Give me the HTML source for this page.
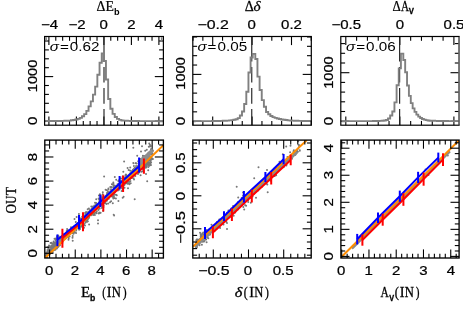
<!DOCTYPE html>
<html><head><meta charset="utf-8"><title>chart</title>
<style>html,body{margin:0;padding:0;background:#fff;}svg{display:block;will-change:transform;}</style>
</head><body>
<svg width="463" height="318" viewBox="0 0 463 318">
<rect width="463" height="318" fill="#fff"/>
<line x1="48.90" y1="36.50" x2="48.90" y2="45.10" stroke="#000" stroke-width="1.1" />
<line x1="48.90" y1="125.20" x2="48.90" y2="116.60" stroke="#000" stroke-width="1.1" />
<line x1="55.78" y1="36.50" x2="55.78" y2="40.80" stroke="#000" stroke-width="1.1" />
<line x1="55.78" y1="125.20" x2="55.78" y2="120.90" stroke="#000" stroke-width="1.1" />
<line x1="62.65" y1="36.50" x2="62.65" y2="40.80" stroke="#000" stroke-width="1.1" />
<line x1="62.65" y1="125.20" x2="62.65" y2="120.90" stroke="#000" stroke-width="1.1" />
<line x1="69.53" y1="36.50" x2="69.53" y2="40.80" stroke="#000" stroke-width="1.1" />
<line x1="69.53" y1="125.20" x2="69.53" y2="120.90" stroke="#000" stroke-width="1.1" />
<line x1="76.40" y1="36.50" x2="76.40" y2="45.10" stroke="#000" stroke-width="1.1" />
<line x1="76.40" y1="125.20" x2="76.40" y2="116.60" stroke="#000" stroke-width="1.1" />
<line x1="83.28" y1="36.50" x2="83.28" y2="40.80" stroke="#000" stroke-width="1.1" />
<line x1="83.28" y1="125.20" x2="83.28" y2="120.90" stroke="#000" stroke-width="1.1" />
<line x1="90.15" y1="36.50" x2="90.15" y2="40.80" stroke="#000" stroke-width="1.1" />
<line x1="90.15" y1="125.20" x2="90.15" y2="120.90" stroke="#000" stroke-width="1.1" />
<line x1="97.03" y1="36.50" x2="97.03" y2="40.80" stroke="#000" stroke-width="1.1" />
<line x1="97.03" y1="125.20" x2="97.03" y2="120.90" stroke="#000" stroke-width="1.1" />
<line x1="103.90" y1="36.50" x2="103.90" y2="45.10" stroke="#000" stroke-width="1.1" />
<line x1="103.90" y1="125.20" x2="103.90" y2="116.60" stroke="#000" stroke-width="1.1" />
<line x1="110.78" y1="36.50" x2="110.78" y2="40.80" stroke="#000" stroke-width="1.1" />
<line x1="110.78" y1="125.20" x2="110.78" y2="120.90" stroke="#000" stroke-width="1.1" />
<line x1="117.65" y1="36.50" x2="117.65" y2="40.80" stroke="#000" stroke-width="1.1" />
<line x1="117.65" y1="125.20" x2="117.65" y2="120.90" stroke="#000" stroke-width="1.1" />
<line x1="124.53" y1="36.50" x2="124.53" y2="40.80" stroke="#000" stroke-width="1.1" />
<line x1="124.53" y1="125.20" x2="124.53" y2="120.90" stroke="#000" stroke-width="1.1" />
<line x1="131.40" y1="36.50" x2="131.40" y2="45.10" stroke="#000" stroke-width="1.1" />
<line x1="131.40" y1="125.20" x2="131.40" y2="116.60" stroke="#000" stroke-width="1.1" />
<line x1="138.28" y1="36.50" x2="138.28" y2="40.80" stroke="#000" stroke-width="1.1" />
<line x1="138.28" y1="125.20" x2="138.28" y2="120.90" stroke="#000" stroke-width="1.1" />
<line x1="145.15" y1="36.50" x2="145.15" y2="40.80" stroke="#000" stroke-width="1.1" />
<line x1="145.15" y1="125.20" x2="145.15" y2="120.90" stroke="#000" stroke-width="1.1" />
<line x1="152.03" y1="36.50" x2="152.03" y2="40.80" stroke="#000" stroke-width="1.1" />
<line x1="152.03" y1="125.20" x2="152.03" y2="120.90" stroke="#000" stroke-width="1.1" />
<line x1="158.90" y1="36.50" x2="158.90" y2="45.10" stroke="#000" stroke-width="1.1" />
<line x1="158.90" y1="125.20" x2="158.90" y2="116.60" stroke="#000" stroke-width="1.1" />
<line x1="44.60" y1="121.10" x2="53.20" y2="121.10" stroke="#000" stroke-width="1.1" />
<line x1="163.40" y1="121.10" x2="154.80" y2="121.10" stroke="#000" stroke-width="1.1" />
<line x1="44.60" y1="112.20" x2="48.90" y2="112.20" stroke="#000" stroke-width="1.1" />
<line x1="163.40" y1="112.20" x2="159.10" y2="112.20" stroke="#000" stroke-width="1.1" />
<line x1="44.60" y1="103.30" x2="48.90" y2="103.30" stroke="#000" stroke-width="1.1" />
<line x1="163.40" y1="103.30" x2="159.10" y2="103.30" stroke="#000" stroke-width="1.1" />
<line x1="44.60" y1="94.40" x2="48.90" y2="94.40" stroke="#000" stroke-width="1.1" />
<line x1="163.40" y1="94.40" x2="159.10" y2="94.40" stroke="#000" stroke-width="1.1" />
<line x1="44.60" y1="85.50" x2="48.90" y2="85.50" stroke="#000" stroke-width="1.1" />
<line x1="163.40" y1="85.50" x2="159.10" y2="85.50" stroke="#000" stroke-width="1.1" />
<line x1="44.60" y1="76.60" x2="53.20" y2="76.60" stroke="#000" stroke-width="1.1" />
<line x1="163.40" y1="76.60" x2="154.80" y2="76.60" stroke="#000" stroke-width="1.1" />
<line x1="44.60" y1="67.70" x2="48.90" y2="67.70" stroke="#000" stroke-width="1.1" />
<line x1="163.40" y1="67.70" x2="159.10" y2="67.70" stroke="#000" stroke-width="1.1" />
<line x1="44.60" y1="58.80" x2="48.90" y2="58.80" stroke="#000" stroke-width="1.1" />
<line x1="163.40" y1="58.80" x2="159.10" y2="58.80" stroke="#000" stroke-width="1.1" />
<line x1="44.60" y1="49.90" x2="48.90" y2="49.90" stroke="#000" stroke-width="1.1" />
<line x1="163.40" y1="49.90" x2="159.10" y2="49.90" stroke="#000" stroke-width="1.1" />
<line x1="44.60" y1="41.00" x2="48.90" y2="41.00" stroke="#000" stroke-width="1.1" />
<line x1="163.40" y1="41.00" x2="159.10" y2="41.00" stroke="#000" stroke-width="1.1" />
<line x1="104.00" y1="36.60" x2="104.00" y2="61.50" stroke="#222" stroke-width="1.15" />
<line x1="104.00" y1="67.00" x2="104.00" y2="82.50" stroke="#222" stroke-width="1.15" />
<line x1="104.00" y1="88.10" x2="104.00" y2="103.80" stroke="#222" stroke-width="1.15" />
<line x1="104.00" y1="109.10" x2="104.00" y2="125.00" stroke="#222" stroke-width="1.15" />
<path d="M45.40,121.10 L45.40,121.09 L46.75,121.09 L46.75,121.08 L48.95,121.08 L48.95,121.06 L51.15,121.06 L51.15,121.05 L53.35,121.05 L53.35,121.03 L55.55,121.03 L55.55,121.02 L57.75,121.02 L57.75,121.01 L59.95,121.01 L59.95,120.96 L62.15,120.96 L62.15,120.87 L64.35,120.87 L64.35,120.78 L66.55,120.78 L66.55,120.69 L68.75,120.69 L68.75,120.61 L70.95,120.61 L70.95,120.27 L73.15,120.27 L73.15,119.93 L75.35,119.93 L75.35,119.55 L77.55,119.55 L77.55,118.88 L79.75,118.88 L79.75,117.86 L81.95,117.86 L81.95,116.30 L84.15,116.30 L84.15,114.11 L86.35,114.11 L86.35,110.90 L88.55,110.90 L88.55,106.41 L90.75,106.41 L90.75,101.41 L92.95,101.41 L92.95,94.62 L95.15,94.62 L95.15,86.60 L97.35,86.60 L97.35,74.80 L99.55,74.80 L99.55,62.77 L101.75,62.77 L101.75,53.40 L103.75,53.40 L103.75,61.02 L105.95,61.02 L105.95,79.46 L108.15,79.46 L108.15,99.07 L110.35,99.07 L110.35,108.68 L112.55,108.68 L112.55,113.91 L114.75,113.91 L114.75,116.93 L116.95,116.93 L116.95,118.84 L119.15,118.84 L119.15,119.91 L121.35,119.91 L121.35,120.43 L123.55,120.43 L123.55,120.62 L125.75,120.62 L125.75,120.80 L127.95,120.80 L127.95,120.92 L130.15,120.92 L130.15,120.95 L132.35,120.95 L132.35,120.99 L134.55,120.99 L134.55,121.03 L136.75,121.03 L136.75,121.06 L138.95,121.06 L138.95,121.10 L141.15,121.10 L141.15,121.11 L143.35,121.11 L143.35,121.12 L145.55,121.12 L145.55,121.13 L147.75,121.13 L147.75,121.14 L149.95,121.14 L149.95,121.14 L152.15,121.14 L152.15,121.15 L154.35,121.15 L154.35,121.16 L156.55,121.16 L156.55,121.17 L158.75,121.17 L158.75,121.18 L160.95,121.18 L160.95,121.19 L162.60,121.19 L162.60,121.10" fill="none" stroke="#808080" stroke-width="1.9" stroke-linejoin="miter"/>
<line x1="46.20" y1="37.30" x2="46.20" y2="40.70" stroke="#808080" stroke-width="1.4" />
<line x1="161.60" y1="37.30" x2="161.60" y2="41.50" stroke="#808080" stroke-width="1.4" />
<rect x="44.60" y="36.50" width="118.80" height="88.70" fill="none" stroke="#000" stroke-width="1.2"/>
<line x1="193.00" y1="36.50" x2="193.00" y2="40.80" stroke="#000" stroke-width="1.1" />
<line x1="193.00" y1="125.20" x2="193.00" y2="120.90" stroke="#000" stroke-width="1.1" />
<line x1="202.85" y1="36.50" x2="202.85" y2="40.80" stroke="#000" stroke-width="1.1" />
<line x1="202.85" y1="125.20" x2="202.85" y2="120.90" stroke="#000" stroke-width="1.1" />
<line x1="212.70" y1="36.50" x2="212.70" y2="45.10" stroke="#000" stroke-width="1.1" />
<line x1="212.70" y1="125.20" x2="212.70" y2="116.60" stroke="#000" stroke-width="1.1" />
<line x1="222.55" y1="36.50" x2="222.55" y2="40.80" stroke="#000" stroke-width="1.1" />
<line x1="222.55" y1="125.20" x2="222.55" y2="120.90" stroke="#000" stroke-width="1.1" />
<line x1="232.40" y1="36.50" x2="232.40" y2="40.80" stroke="#000" stroke-width="1.1" />
<line x1="232.40" y1="125.20" x2="232.40" y2="120.90" stroke="#000" stroke-width="1.1" />
<line x1="242.25" y1="36.50" x2="242.25" y2="40.80" stroke="#000" stroke-width="1.1" />
<line x1="242.25" y1="125.20" x2="242.25" y2="120.90" stroke="#000" stroke-width="1.1" />
<line x1="252.10" y1="36.50" x2="252.10" y2="45.10" stroke="#000" stroke-width="1.1" />
<line x1="252.10" y1="125.20" x2="252.10" y2="116.60" stroke="#000" stroke-width="1.1" />
<line x1="261.95" y1="36.50" x2="261.95" y2="40.80" stroke="#000" stroke-width="1.1" />
<line x1="261.95" y1="125.20" x2="261.95" y2="120.90" stroke="#000" stroke-width="1.1" />
<line x1="271.80" y1="36.50" x2="271.80" y2="40.80" stroke="#000" stroke-width="1.1" />
<line x1="271.80" y1="125.20" x2="271.80" y2="120.90" stroke="#000" stroke-width="1.1" />
<line x1="281.65" y1="36.50" x2="281.65" y2="40.80" stroke="#000" stroke-width="1.1" />
<line x1="281.65" y1="125.20" x2="281.65" y2="120.90" stroke="#000" stroke-width="1.1" />
<line x1="291.50" y1="36.50" x2="291.50" y2="45.10" stroke="#000" stroke-width="1.1" />
<line x1="291.50" y1="125.20" x2="291.50" y2="116.60" stroke="#000" stroke-width="1.1" />
<line x1="301.35" y1="36.50" x2="301.35" y2="40.80" stroke="#000" stroke-width="1.1" />
<line x1="301.35" y1="125.20" x2="301.35" y2="120.90" stroke="#000" stroke-width="1.1" />
<line x1="311.20" y1="36.50" x2="311.20" y2="40.80" stroke="#000" stroke-width="1.1" />
<line x1="311.20" y1="125.20" x2="311.20" y2="120.90" stroke="#000" stroke-width="1.1" />
<line x1="192.80" y1="121.20" x2="201.40" y2="121.20" stroke="#000" stroke-width="1.1" />
<line x1="311.30" y1="121.20" x2="302.70" y2="121.20" stroke="#000" stroke-width="1.1" />
<line x1="192.80" y1="111.84" x2="197.10" y2="111.84" stroke="#000" stroke-width="1.1" />
<line x1="311.30" y1="111.84" x2="307.00" y2="111.84" stroke="#000" stroke-width="1.1" />
<line x1="192.80" y1="102.48" x2="197.10" y2="102.48" stroke="#000" stroke-width="1.1" />
<line x1="311.30" y1="102.48" x2="307.00" y2="102.48" stroke="#000" stroke-width="1.1" />
<line x1="192.80" y1="93.12" x2="197.10" y2="93.12" stroke="#000" stroke-width="1.1" />
<line x1="311.30" y1="93.12" x2="307.00" y2="93.12" stroke="#000" stroke-width="1.1" />
<line x1="192.80" y1="83.76" x2="197.10" y2="83.76" stroke="#000" stroke-width="1.1" />
<line x1="311.30" y1="83.76" x2="307.00" y2="83.76" stroke="#000" stroke-width="1.1" />
<line x1="192.80" y1="74.40" x2="201.40" y2="74.40" stroke="#000" stroke-width="1.1" />
<line x1="311.30" y1="74.40" x2="302.70" y2="74.40" stroke="#000" stroke-width="1.1" />
<line x1="192.80" y1="65.04" x2="197.10" y2="65.04" stroke="#000" stroke-width="1.1" />
<line x1="311.30" y1="65.04" x2="307.00" y2="65.04" stroke="#000" stroke-width="1.1" />
<line x1="192.80" y1="55.68" x2="197.10" y2="55.68" stroke="#000" stroke-width="1.1" />
<line x1="311.30" y1="55.68" x2="307.00" y2="55.68" stroke="#000" stroke-width="1.1" />
<line x1="192.80" y1="46.32" x2="197.10" y2="46.32" stroke="#000" stroke-width="1.1" />
<line x1="311.30" y1="46.32" x2="307.00" y2="46.32" stroke="#000" stroke-width="1.1" />
<line x1="192.80" y1="36.96" x2="197.10" y2="36.96" stroke="#000" stroke-width="1.1" />
<line x1="311.30" y1="36.96" x2="307.00" y2="36.96" stroke="#000" stroke-width="1.1" />
<line x1="251.75" y1="36.60" x2="251.75" y2="61.50" stroke="#222" stroke-width="1.15" />
<line x1="251.75" y1="67.00" x2="251.75" y2="82.50" stroke="#222" stroke-width="1.15" />
<line x1="251.75" y1="88.10" x2="251.75" y2="103.80" stroke="#222" stroke-width="1.15" />
<line x1="251.75" y1="109.10" x2="251.75" y2="125.00" stroke="#222" stroke-width="1.15" />
<path d="M193.60,121.20 L193.60,121.18 L194.70,121.18 L194.70,121.17 L196.85,121.17 L196.85,121.16 L199.00,121.16 L199.00,121.15 L201.15,121.15 L201.15,121.14 L203.30,121.14 L203.30,121.13 L205.45,121.13 L205.45,121.12 L207.60,121.12 L207.60,121.11 L209.75,121.11 L209.75,121.09 L211.90,121.09 L211.90,121.05 L214.05,121.05 L214.05,121.01 L216.20,121.01 L216.20,120.98 L218.35,120.98 L218.35,120.94 L220.50,120.94 L220.50,120.91 L222.65,120.91 L222.65,120.81 L224.80,120.81 L224.80,120.71 L226.95,120.71 L226.95,120.60 L229.10,120.60 L229.10,120.38 L231.25,120.38 L231.25,120.15 L233.40,120.15 L233.40,119.80 L235.55,119.80 L235.55,119.22 L237.70,119.22 L237.70,118.16 L239.85,118.16 L239.85,115.43 L242.00,115.43 L242.00,111.52 L244.15,111.52 L244.15,104.01 L246.30,104.01 L246.30,91.75 L248.45,91.75 L248.45,72.56 L250.60,72.56 L250.60,57.47 L252.75,57.47 L252.75,53.90 L255.30,53.90 L255.30,58.93 L257.45,58.93 L257.45,76.59 L259.60,76.59 L259.60,90.02 L261.75,90.02 L261.75,100.08 L263.90,100.08 L263.90,106.77 L266.05,106.77 L266.05,112.00 L268.20,112.00 L268.20,114.32 L270.35,114.32 L270.35,115.99 L272.50,115.99 L272.50,117.10 L274.65,117.10 L274.65,117.90 L276.80,117.90 L276.80,118.53 L278.95,118.53 L278.95,119.05 L281.10,119.05 L281.10,119.52 L283.25,119.52 L283.25,119.79 L285.40,119.79 L285.40,120.06 L287.55,120.06 L287.55,120.33 L289.70,120.33 L289.70,120.53 L291.85,120.53 L291.85,120.62 L294.00,120.62 L294.00,120.70 L296.15,120.70 L296.15,120.79 L298.30,120.79 L298.30,120.87 L300.45,120.87 L300.45,120.92 L302.60,120.92 L302.60,120.95 L304.75,120.95 L304.75,120.98 L306.90,120.98 L306.90,121.01 L309.05,121.01 L309.05,121.03 L310.50,121.03 L310.50,121.20" fill="none" stroke="#808080" stroke-width="1.9" stroke-linejoin="miter"/>
<rect x="192.80" y="36.50" width="118.50" height="88.70" fill="none" stroke="#000" stroke-width="1.2"/>
<line x1="345.80" y1="36.50" x2="345.80" y2="45.10" stroke="#000" stroke-width="1.1" />
<line x1="345.80" y1="125.20" x2="345.80" y2="116.60" stroke="#000" stroke-width="1.1" />
<line x1="356.61" y1="36.50" x2="356.61" y2="40.80" stroke="#000" stroke-width="1.1" />
<line x1="356.61" y1="125.20" x2="356.61" y2="120.90" stroke="#000" stroke-width="1.1" />
<line x1="367.42" y1="36.50" x2="367.42" y2="40.80" stroke="#000" stroke-width="1.1" />
<line x1="367.42" y1="125.20" x2="367.42" y2="120.90" stroke="#000" stroke-width="1.1" />
<line x1="378.23" y1="36.50" x2="378.23" y2="40.80" stroke="#000" stroke-width="1.1" />
<line x1="378.23" y1="125.20" x2="378.23" y2="120.90" stroke="#000" stroke-width="1.1" />
<line x1="389.04" y1="36.50" x2="389.04" y2="40.80" stroke="#000" stroke-width="1.1" />
<line x1="389.04" y1="125.20" x2="389.04" y2="120.90" stroke="#000" stroke-width="1.1" />
<line x1="399.85" y1="36.50" x2="399.85" y2="45.10" stroke="#000" stroke-width="1.1" />
<line x1="399.85" y1="125.20" x2="399.85" y2="116.60" stroke="#000" stroke-width="1.1" />
<line x1="410.66" y1="36.50" x2="410.66" y2="40.80" stroke="#000" stroke-width="1.1" />
<line x1="410.66" y1="125.20" x2="410.66" y2="120.90" stroke="#000" stroke-width="1.1" />
<line x1="421.47" y1="36.50" x2="421.47" y2="40.80" stroke="#000" stroke-width="1.1" />
<line x1="421.47" y1="125.20" x2="421.47" y2="120.90" stroke="#000" stroke-width="1.1" />
<line x1="432.28" y1="36.50" x2="432.28" y2="40.80" stroke="#000" stroke-width="1.1" />
<line x1="432.28" y1="125.20" x2="432.28" y2="120.90" stroke="#000" stroke-width="1.1" />
<line x1="443.09" y1="36.50" x2="443.09" y2="40.80" stroke="#000" stroke-width="1.1" />
<line x1="443.09" y1="125.20" x2="443.09" y2="120.90" stroke="#000" stroke-width="1.1" />
<line x1="453.90" y1="36.50" x2="453.90" y2="45.10" stroke="#000" stroke-width="1.1" />
<line x1="453.90" y1="125.20" x2="453.90" y2="116.60" stroke="#000" stroke-width="1.1" />
<line x1="340.80" y1="121.20" x2="349.40" y2="121.20" stroke="#000" stroke-width="1.1" />
<line x1="459.10" y1="121.20" x2="450.50" y2="121.20" stroke="#000" stroke-width="1.1" />
<line x1="340.80" y1="111.50" x2="345.10" y2="111.50" stroke="#000" stroke-width="1.1" />
<line x1="459.10" y1="111.50" x2="454.80" y2="111.50" stroke="#000" stroke-width="1.1" />
<line x1="340.80" y1="101.80" x2="345.10" y2="101.80" stroke="#000" stroke-width="1.1" />
<line x1="459.10" y1="101.80" x2="454.80" y2="101.80" stroke="#000" stroke-width="1.1" />
<line x1="340.80" y1="92.10" x2="345.10" y2="92.10" stroke="#000" stroke-width="1.1" />
<line x1="459.10" y1="92.10" x2="454.80" y2="92.10" stroke="#000" stroke-width="1.1" />
<line x1="340.80" y1="82.40" x2="345.10" y2="82.40" stroke="#000" stroke-width="1.1" />
<line x1="459.10" y1="82.40" x2="454.80" y2="82.40" stroke="#000" stroke-width="1.1" />
<line x1="340.80" y1="72.70" x2="349.40" y2="72.70" stroke="#000" stroke-width="1.1" />
<line x1="459.10" y1="72.70" x2="450.50" y2="72.70" stroke="#000" stroke-width="1.1" />
<line x1="340.80" y1="63.00" x2="345.10" y2="63.00" stroke="#000" stroke-width="1.1" />
<line x1="459.10" y1="63.00" x2="454.80" y2="63.00" stroke="#000" stroke-width="1.1" />
<line x1="340.80" y1="53.30" x2="345.10" y2="53.30" stroke="#000" stroke-width="1.1" />
<line x1="459.10" y1="53.30" x2="454.80" y2="53.30" stroke="#000" stroke-width="1.1" />
<line x1="340.80" y1="43.60" x2="345.10" y2="43.60" stroke="#000" stroke-width="1.1" />
<line x1="459.10" y1="43.60" x2="454.80" y2="43.60" stroke="#000" stroke-width="1.1" />
<line x1="399.62" y1="36.60" x2="399.62" y2="61.50" stroke="#222" stroke-width="1.15" />
<line x1="399.62" y1="67.00" x2="399.62" y2="82.50" stroke="#222" stroke-width="1.15" />
<line x1="399.62" y1="88.10" x2="399.62" y2="103.80" stroke="#222" stroke-width="1.15" />
<line x1="399.62" y1="109.10" x2="399.62" y2="125.00" stroke="#222" stroke-width="1.15" />
<path d="M341.60,121.20 L341.60,121.19 L342.85,121.19 L342.85,121.18 L345.00,121.18 L345.00,121.17 L347.15,121.17 L347.15,121.17 L349.30,121.17 L349.30,121.16 L351.45,121.16 L351.45,121.15 L353.60,121.15 L353.60,121.15 L355.75,121.15 L355.75,121.14 L357.90,121.14 L357.90,121.13 L360.05,121.13 L360.05,121.13 L362.20,121.13 L362.20,121.12 L364.35,121.12 L364.35,121.11 L366.50,121.11 L366.50,121.11 L368.65,121.11 L368.65,121.10 L370.80,121.10 L370.80,121.08 L372.95,121.08 L372.95,121.05 L375.10,121.05 L375.10,121.02 L377.25,121.02 L377.25,120.98 L379.40,120.98 L379.40,120.88 L381.55,120.88 L381.55,120.77 L383.70,120.77 L383.70,120.52 L385.85,120.52 L385.85,120.01 L388.00,120.01 L388.00,118.48 L390.15,118.48 L390.15,115.53 L392.30,115.53 L392.30,111.44 L394.45,111.44 L394.45,102.42 L396.60,102.42 L396.60,85.21 L398.75,85.21 L398.75,68.33 L400.90,68.33 L400.90,53.60 L403.30,53.60 L403.30,60.01 L405.17,60.01 L405.17,72.20 L407.04,72.20 L407.04,85.48 L408.91,85.48 L408.91,95.91 L410.78,95.91 L410.78,103.16 L412.65,103.16 L412.65,108.37 L414.52,108.37 L414.52,111.85 L416.39,111.85 L416.39,114.62 L418.26,114.62 L418.26,116.60 L420.13,116.60 L420.13,117.99 L422.00,117.99 L422.00,118.97 L423.87,118.97 L423.87,119.60 L425.74,119.60 L425.74,120.12 L427.61,120.12 L427.61,120.45 L429.48,120.45 L429.48,120.71 L431.35,120.71 L431.35,120.77 L433.22,120.77 L433.22,120.82 L435.09,120.82 L435.09,120.88 L436.96,120.88 L436.96,120.94 L438.83,120.94 L438.83,120.99 L440.70,120.99 L440.70,121.02 L442.57,121.02 L442.57,121.04 L444.44,121.04 L444.44,121.05 L446.31,121.05 L446.31,121.07 L448.18,121.07 L448.18,121.09 L450.05,121.09 L450.05,121.11 L451.92,121.11 L451.92,121.12 L453.79,121.12 L453.79,121.14 L455.66,121.14 L455.66,121.15 L457.53,121.15 L457.53,121.17 L458.30,121.17 L458.30,121.20" fill="none" stroke="#808080" stroke-width="1.9" stroke-linejoin="miter"/>
<rect x="340.80" y="36.50" width="118.30" height="88.70" fill="none" stroke="#000" stroke-width="1.2"/>
<line x1="459.10" y1="37.10" x2="459.10" y2="124.60" stroke="#7a7a7a" stroke-width="1.5" />
<text transform="translate(49.80,50.80) scale(1.22,1)" font-family="Liberation Sans" font-size="12.5px" fill="#000"><tspan font-style="italic">σ</tspan><tspan dx="0.8">=</tspan><tspan dx="0.8">0.62</tspan></text>
<text transform="translate(197.40,50.80) scale(1.22,1)" font-family="Liberation Sans" font-size="12.5px" fill="#000"><tspan font-style="italic">σ</tspan><tspan dx="0.8">=</tspan><tspan dx="0.8">0.05</tspan></text>
<text transform="translate(346.00,50.80) scale(1.22,1)" font-family="Liberation Sans" font-size="12.5px" fill="#000"><tspan font-style="italic">σ</tspan><tspan dx="0.8">=</tspan><tspan dx="0.8">0.06</tspan></text>
<text transform="translate(49.50,28.80) scale(1.2,1)" text-anchor="middle" font-family="Liberation Sans" font-size="12.5px" fill="#000" stroke="#000" stroke-width="0.22">−4</text>
<text transform="translate(77.00,28.80) scale(1.2,1)" text-anchor="middle" font-family="Liberation Sans" font-size="12.5px" fill="#000" stroke="#000" stroke-width="0.22">−2</text>
<text transform="translate(103.80,28.80) scale(1.2,1)" text-anchor="middle" font-family="Liberation Sans" font-size="12.5px" fill="#000" stroke="#000" stroke-width="0.22">0</text>
<text transform="translate(131.40,28.80) scale(1.2,1)" text-anchor="middle" font-family="Liberation Sans" font-size="12.5px" fill="#000" stroke="#000" stroke-width="0.22">2</text>
<text transform="translate(158.90,28.80) scale(1.2,1)" text-anchor="middle" font-family="Liberation Sans" font-size="12.5px" fill="#000" stroke="#000" stroke-width="0.22">4</text>
<text transform="translate(213.10,28.80) scale(1.27,1)" text-anchor="middle" font-family="Liberation Sans" font-size="12.5px" fill="#000" stroke="#000" stroke-width="0.22">−0.2</text>
<text transform="translate(251.80,28.80) scale(1.2,1)" text-anchor="middle" font-family="Liberation Sans" font-size="12.5px" fill="#000" stroke="#000" stroke-width="0.22">0</text>
<text transform="translate(291.50,28.80) scale(1.2,1)" text-anchor="middle" font-family="Liberation Sans" font-size="12.5px" fill="#000" stroke="#000" stroke-width="0.22">0.2</text>
<text transform="translate(346.20,28.80) scale(1.2,1)" text-anchor="middle" font-family="Liberation Sans" font-size="12.5px" fill="#000" stroke="#000" stroke-width="0.22">−0.5</text>
<text transform="translate(399.90,28.80) scale(1.2,1)" text-anchor="middle" font-family="Liberation Sans" font-size="12.5px" fill="#000" stroke="#000" stroke-width="0.22">0</text>
<text transform="translate(443.60,28.80) scale(1.2,1)" text-anchor="start" font-family="Liberation Sans" font-size="12.5px" fill="#000" stroke="#000" stroke-width="0.22">0.5</text>
<text transform="translate(37.40,120.70) rotate(-90) scale(1.2,1)" text-anchor="middle" font-family="Liberation Sans" font-size="12.5px" fill="#000" stroke="#000" stroke-width="0.22">0</text>
<text transform="translate(37.40,75.90) rotate(-90) scale(1.17,1)" text-anchor="middle" font-family="Liberation Sans" font-size="12.5px" fill="#000" stroke="#000" stroke-width="0.22">1000</text>
<text transform="translate(185.20,121.00) rotate(-90) scale(1.2,1)" text-anchor="middle" font-family="Liberation Sans" font-size="12.5px" fill="#000" stroke="#000" stroke-width="0.22">0</text>
<text transform="translate(185.20,73.40) rotate(-90) scale(1.17,1)" text-anchor="middle" font-family="Liberation Sans" font-size="12.5px" fill="#000" stroke="#000" stroke-width="0.22">1000</text>
<text transform="translate(333.20,121.00) rotate(-90) scale(1.2,1)" text-anchor="middle" font-family="Liberation Sans" font-size="12.5px" fill="#000" stroke="#000" stroke-width="0.22">0</text>
<text transform="translate(333.20,72.50) rotate(-90) scale(1.17,1)" text-anchor="middle" font-family="Liberation Sans" font-size="12.5px" fill="#000" stroke="#000" stroke-width="0.22">1000</text>
<text transform="translate(96.50,10.70) scale(0.93,1)" text-anchor="start" font-family="Liberation Serif" font-size="14.8px" fill="#000" stroke="#000" stroke-width="0.25">Δ</text>
<text transform="translate(105.50,10.70) scale(0.93,1)" text-anchor="start" font-family="Liberation Serif" font-size="14.8px" fill="#000" stroke="#000" stroke-width="0.25">E</text>
<text transform="translate(114.00,14.60) scale(1.0,1)" text-anchor="start" font-family="Liberation Sans" font-size="9.2px" fill="#000" font-weight="bold">b</text>
<text transform="translate(244.70,10.50) scale(0.95,1)" text-anchor="start" font-family="Liberation Serif" font-size="14.8px" fill="#000" stroke="#000" stroke-width="0.25">Δ</text>
<text transform="translate(253.60,10.50) scale(1.05,1)" text-anchor="start" font-family="Liberation Serif" font-size="14.5px" fill="#000" font-style="italic" stroke="#000" stroke-width="0.25">δ</text>
<text transform="translate(392.60,10.50) scale(0.88,1)" text-anchor="start" font-family="Liberation Serif" font-size="14.6px" fill="#000" stroke="#000" stroke-width="0.25">Δ</text>
<text transform="translate(400.90,10.50) scale(0.76,1)" text-anchor="start" font-family="Liberation Serif" font-size="14.6px" fill="#000" stroke="#000" stroke-width="0.25">A</text>
<text transform="translate(408.80,14.10) scale(0.9,1)" text-anchor="start" font-family="Liberation Sans" font-size="8.6px" fill="#000" font-weight="bold" stroke="#000" stroke-width="0.3">V</text>
<clipPath id="c0"><rect x="44.8" y="140.1" width="118.60000000000001" height="117.9"/></clipPath>
<g clip-path="url(#c0)">
<path d="M80.7,221.7h0.01M103.3,199.9h0.01M52.2,251.1h0.01M53.5,248.4h0.01M91.4,214.0h0.01M113.1,193.9h0.01M107.8,198.1h0.01M137.9,168.4h0.01M61.4,239.0h0.01M65.3,236.5h0.01M114.4,189.3h0.01M52.4,248.8h0.01M118.8,184.3h0.01M94.5,213.6h0.01M131.0,175.3h0.01M102.2,207.0h0.01M124.1,183.9h0.01M90.7,212.7h0.01M62.3,243.0h0.01M127.8,179.8h0.01M139.7,164.6h0.01M108.0,191.6h0.01M135.9,163.2h0.01M52.5,249.3h0.01M115.2,191.4h0.01M87.3,213.8h0.01M48.4,253.1h0.01M52.3,249.9h0.01M59.8,238.5h0.01M54.6,249.4h0.01M104.8,202.9h0.01M75.8,221.9h0.01M84.4,220.6h0.01M64.9,236.9h0.01M71.0,229.8h0.01M46.4,253.8h0.01M85.5,222.4h0.01M101.2,201.5h0.01M118.4,201.0h0.01M139.6,161.8h0.01M88.0,219.1h0.01M52.7,252.5h0.01M68.3,233.5h0.01M46.0,255.4h0.01M56.9,244.7h0.01M111.7,196.3h0.01M73.0,228.7h0.01M136.8,171.5h0.01M95.9,209.5h0.01M82.7,221.2h0.01M134.7,199.2h0.01M102.5,204.9h0.01M104.1,176.4h0.01M138.4,165.7h0.01M73.9,231.0h0.01M103.0,207.0h0.01M81.3,225.1h0.01M137.2,155.7h0.01M133.6,173.5h0.01M84.0,227.7h0.01M49.0,252.0h0.01M148.3,167.1h0.01M146.3,165.6h0.01M69.6,232.1h0.01M67.0,231.4h0.01M135.9,162.9h0.01M115.9,194.7h0.01M143.3,167.4h0.01M126.3,183.1h0.01M81.6,226.3h0.01M150.0,146.4h0.01M123.6,196.7h0.01M59.6,245.5h0.01M61.6,237.9h0.01M150.9,152.3h0.01M60.0,240.6h0.01M149.9,144.7h0.01M92.4,210.0h0.01M134.4,171.8h0.01M71.7,233.0h0.01M73.8,232.9h0.01M83.9,224.3h0.01M108.4,188.5h0.01M99.7,208.4h0.01M102.0,197.2h0.01M46.4,255.0h0.01M64.4,237.2h0.01M80.9,218.4h0.01M105.4,203.0h0.01M72.6,232.1h0.01M128.6,169.9h0.01M143.6,159.8h0.01M111.5,187.1h0.01M94.4,209.1h0.01M97.1,204.6h0.01M146.8,149.8h0.01M105.9,199.8h0.01M59.0,241.7h0.01M53.8,250.3h0.01M129.9,179.3h0.01M62.5,238.7h0.01M140.5,163.8h0.01M69.5,230.5h0.01M151.9,159.2h0.01M63.3,236.6h0.01M66.9,235.0h0.01M123.3,171.8h0.01M47.9,252.5h0.01M112.8,203.2h0.01M130.4,181.1h0.01M57.2,248.0h0.01M74.9,228.9h0.01M91.2,213.6h0.01M62.0,238.3h0.01M107.1,198.7h0.01M119.6,186.5h0.01M53.7,245.3h0.01M55.0,243.8h0.01M53.1,246.5h0.01M105.2,200.3h0.01M74.7,226.0h0.01M57.7,243.7h0.01M51.4,249.3h0.01M127.3,182.2h0.01M99.5,204.3h0.01M72.8,230.7h0.01M124.4,183.1h0.01M146.0,173.9h0.01M133.6,163.3h0.01M88.1,215.6h0.01M119.6,181.2h0.01M121.6,190.9h0.01M89.3,215.9h0.01M53.6,248.2h0.01M73.3,233.7h0.01M139.1,172.4h0.01M76.2,225.8h0.01M62.9,241.6h0.01M74.2,231.9h0.01M72.2,229.8h0.01M79.1,226.7h0.01M96.8,207.2h0.01M67.5,236.7h0.01M55.6,246.0h0.01M50.5,249.7h0.01M108.7,198.8h0.01M126.3,177.5h0.01M87.7,209.3h0.01M151.4,153.0h0.01M50.7,247.9h0.01M141.4,164.3h0.01M60.9,236.9h0.01M100.0,206.5h0.01M108.5,189.2h0.01M119.1,186.4h0.01M60.2,242.1h0.01M57.2,241.6h0.01M113.0,189.9h0.01M98.4,209.8h0.01M99.8,198.6h0.01M116.5,188.0h0.01M54.0,246.0h0.01M124.0,180.8h0.01M98.9,195.4h0.01M97.3,207.3h0.01M114.8,177.0h0.01M61.8,240.0h0.01M106.8,190.2h0.01M52.5,247.5h0.01M118.3,181.1h0.01M101.3,201.2h0.01M141.6,166.3h0.01M150.7,162.7h0.01M133.7,173.1h0.01M94.1,211.8h0.01M68.5,239.7h0.01M61.2,241.8h0.01M133.8,171.7h0.01M140.9,167.0h0.01M98.0,223.6h0.01M46.4,253.2h0.01M61.1,241.4h0.01M79.8,228.1h0.01M135.8,170.8h0.01M145.1,165.4h0.01M85.8,216.0h0.01M152.9,150.7h0.01M75.4,232.5h0.01M56.9,243.6h0.01M72.7,236.0h0.01M100.7,197.1h0.01M140.6,175.2h0.01M113.5,196.4h0.01M123.0,177.8h0.01M124.4,181.4h0.01M76.6,216.9h0.01M145.2,150.7h0.01M77.9,225.5h0.01M150.5,154.2h0.01M105.6,196.2h0.01M63.9,239.5h0.01M99.2,212.6h0.01M143.0,161.1h0.01M66.6,236.6h0.01M82.6,220.9h0.01M106.9,200.7h0.01M126.2,174.7h0.01M86.3,219.0h0.01M52.6,249.7h0.01M99.9,203.9h0.01M138.3,167.7h0.01M88.8,217.2h0.01M148.1,159.8h0.01M49.5,251.4h0.01M141.8,164.8h0.01M87.9,215.5h0.01M134.3,175.6h0.01M57.7,243.7h0.01M101.9,208.0h0.01M115.3,187.4h0.01M94.9,214.9h0.01M70.9,232.7h0.01M115.1,192.3h0.01M114.1,193.3h0.01M58.0,237.3h0.01M87.5,215.3h0.01M110.3,191.2h0.01M148.6,164.2h0.01M140.6,166.4h0.01M148.8,162.4h0.01M78.9,214.1h0.01M90.9,212.8h0.01M117.4,188.0h0.01M82.2,221.7h0.01M119.0,188.4h0.01M100.0,198.4h0.01M149.8,159.1h0.01M69.7,231.0h0.01M77.6,223.5h0.01M69.9,232.5h0.01M117.2,190.6h0.01M68.8,235.6h0.01M61.2,239.9h0.01M142.1,166.5h0.01M124.4,185.0h0.01M65.8,235.4h0.01M125.9,174.6h0.01M86.0,214.7h0.01M64.1,237.0h0.01M148.2,170.3h0.01M149.2,143.5h0.01M134.0,179.4h0.01M51.3,247.0h0.01M66.7,235.5h0.01M142.0,146.2h0.01M128.0,188.3h0.01M49.7,254.3h0.01M126.0,178.1h0.01M82.3,224.9h0.01M74.1,227.6h0.01M79.9,228.1h0.01M144.1,163.0h0.01M146.9,161.5h0.01M148.4,164.9h0.01M87.4,212.7h0.01M145.3,167.7h0.01M131.9,177.9h0.01M111.0,187.6h0.01M80.2,223.1h0.01M67.1,234.1h0.01M72.5,237.7h0.01M80.9,223.0h0.01M140.5,165.9h0.01M56.3,246.1h0.01M121.9,184.0h0.01M112.4,196.8h0.01M126.0,178.5h0.01M136.0,168.2h0.01M106.7,197.7h0.01M72.5,228.3h0.01M62.4,237.7h0.01M88.4,213.8h0.01M100.3,205.9h0.01M152.0,137.9h0.01M96.8,211.4h0.01M50.3,247.4h0.01M58.8,245.8h0.01M145.5,160.2h0.01M138.7,167.3h0.01M147.2,181.3h0.01M109.8,195.8h0.01M61.1,242.9h0.01M73.3,228.3h0.01M47.2,252.9h0.01M118.6,185.6h0.01M131.1,178.0h0.01M52.8,246.6h0.01M114.4,198.1h0.01M63.5,236.9h0.01M78.9,225.3h0.01M79.4,221.7h0.01M138.5,172.1h0.01M84.9,218.1h0.01M46.6,253.2h0.01M91.3,206.6h0.01M95.3,212.6h0.01M47.6,251.0h0.01M55.5,242.5h0.01M85.7,219.2h0.01M101.8,205.0h0.01M57.6,245.9h0.01M67.1,229.0h0.01M146.9,158.3h0.01M145.1,162.0h0.01M142.8,165.4h0.01M130.1,173.4h0.01M89.3,215.3h0.01M69.3,231.6h0.01M101.4,204.9h0.01M123.6,184.4h0.01M50.4,250.8h0.01M135.7,167.5h0.01M110.1,192.2h0.01M90.9,210.7h0.01M91.6,208.7h0.01M48.5,253.2h0.01M98.4,206.3h0.01M95.0,202.8h0.01M96.6,213.3h0.01M55.8,247.3h0.01M100.6,201.3h0.01M124.5,179.8h0.01M100.7,195.2h0.01M147.7,159.0h0.01M137.7,167.7h0.01M66.7,231.0h0.01M98.6,207.4h0.01M130.4,174.2h0.01M53.0,248.4h0.01M141.9,161.7h0.01M133.3,147.7h0.01M68.3,233.9h0.01M100.1,206.3h0.01M63.3,239.1h0.01M118.7,190.3h0.01M58.3,246.7h0.01M114.1,194.7h0.01M108.1,193.0h0.01M57.2,243.0h0.01M131.4,171.2h0.01M152.0,149.3h0.01M93.3,215.0h0.01M125.6,183.6h0.01M114.4,187.8h0.01M108.7,195.9h0.01M49.6,251.7h0.01M111.9,184.3h0.01M60.1,241.3h0.01M115.9,198.4h0.01M57.4,244.3h0.01M70.0,230.9h0.01M112.8,190.7h0.01M60.4,241.5h0.01M56.3,246.5h0.01M139.2,164.1h0.01M47.2,254.6h0.01M106.2,195.8h0.01M146.3,156.1h0.01M72.6,233.1h0.01M89.4,215.2h0.01M52.2,251.5h0.01M146.7,161.5h0.01M67.3,231.3h0.01M133.0,172.5h0.01M79.1,229.7h0.01M129.8,179.2h0.01M46.7,254.3h0.01M125.4,175.2h0.01M70.2,232.4h0.01M81.9,222.1h0.01M120.4,184.2h0.01M105.3,196.3h0.01M130.4,175.0h0.01M149.3,165.7h0.01M140.2,165.9h0.01M125.6,183.5h0.01M125.8,182.9h0.01M71.6,229.3h0.01M113.5,185.7h0.01M96.2,199.3h0.01M120.6,178.2h0.01M107.0,200.0h0.01M68.7,238.5h0.01M61.5,239.0h0.01M57.4,243.6h0.01M49.1,254.0h0.01M120.1,182.9h0.01M53.0,245.3h0.01M84.9,221.2h0.01M53.1,244.6h0.01M143.8,165.8h0.01M58.0,245.8h0.01M136.7,163.5h0.01M113.6,185.6h0.01M56.7,245.0h0.01M80.1,220.9h0.01M48.2,252.3h0.01M85.4,222.8h0.01M149.1,162.5h0.01M49.3,249.8h0.01M92.7,208.0h0.01M103.6,205.7h0.01M138.3,171.3h0.01M46.1,253.9h0.01M127.6,183.7h0.01M98.6,205.6h0.01M65.7,233.8h0.01M73.9,233.0h0.01M76.4,225.4h0.01M57.8,241.5h0.01M54.7,245.7h0.01M113.2,184.9h0.01M88.9,215.7h0.01M141.1,162.4h0.01M68.1,236.6h0.01M86.6,214.6h0.01M71.0,227.2h0.01M126.6,177.7h0.01M83.3,223.2h0.01M116.8,195.2h0.01M64.1,238.4h0.01M59.5,239.4h0.01M140.7,167.5h0.01M121.2,187.7h0.01M62.5,239.4h0.01M101.9,205.8h0.01M81.1,226.7h0.01M56.9,244.2h0.01M56.9,248.4h0.01M124.5,180.4h0.01M67.0,236.5h0.01M87.6,219.0h0.01M88.7,213.5h0.01M113.7,186.8h0.01M61.2,237.6h0.01M143.2,168.5h0.01M107.4,194.7h0.01M123.3,183.9h0.01M128.8,181.4h0.01M114.6,185.4h0.01M79.5,226.0h0.01M129.7,179.1h0.01M113.4,187.6h0.01M112.5,194.5h0.01M118.3,189.6h0.01M129.3,183.0h0.01M98.4,210.1h0.01M63.2,239.5h0.01M146.6,166.0h0.01M103.9,203.5h0.01M100.8,205.6h0.01M89.9,210.2h0.01M68.5,230.5h0.01M59.1,245.0h0.01M84.0,218.1h0.01M47.4,255.4h0.01M91.0,211.1h0.01M70.0,234.0h0.01M146.6,162.3h0.01M87.9,221.2h0.01M59.8,243.1h0.01M96.2,203.1h0.01M70.2,230.0h0.01M133.6,178.2h0.01M96.1,206.1h0.01M135.2,170.3h0.01M137.0,166.7h0.01M91.6,213.9h0.01M46.3,254.4h0.01M78.3,226.7h0.01M91.8,210.1h0.01M145.4,157.3h0.01M52.1,252.0h0.01M61.0,238.6h0.01M113.7,214.8h0.01M116.2,189.7h0.01M56.9,245.1h0.01M83.1,225.4h0.01M142.7,169.5h0.01M111.1,201.2h0.01M117.5,189.7h0.01M67.1,230.5h0.01M102.8,194.3h0.01M105.4,202.1h0.01M71.1,230.5h0.01M96.0,208.1h0.01M98.6,198.5h0.01M46.7,253.4h0.01M96.1,204.5h0.01M86.1,212.0h0.01M148.8,146.7h0.01M49.1,250.1h0.01M119.0,180.3h0.01M100.6,212.7h0.01M142.0,161.4h0.01M82.2,216.8h0.01M85.2,212.8h0.01M68.5,233.1h0.01M91.2,213.8h0.01M134.6,168.1h0.01M99.9,194.3h0.01M116.0,188.7h0.01M81.4,220.5h0.01M113.9,196.4h0.01M50.3,252.7h0.01M51.3,248.4h0.01M46.7,256.4h0.01M116.4,186.0h0.01M143.4,158.0h0.01M120.5,180.8h0.01M118.9,184.1h0.01M127.6,167.9h0.01M65.4,238.6h0.01M116.2,179.7h0.01M134.0,168.7h0.01M78.3,223.7h0.01M80.1,218.6h0.01M51.8,246.0h0.01M50.2,251.9h0.01M144.3,156.1h0.01M47.5,250.1h0.01M150.9,149.2h0.01M90.1,210.2h0.01M62.2,236.8h0.01M46.5,257.7h0.01M55.4,249.8h0.01M59.8,241.3h0.01M124.5,177.8h0.01M51.4,249.1h0.01M124.1,161.5h0.01M113.3,182.4h0.01M73.2,230.9h0.01M122.7,197.8h0.01M133.5,174.3h0.01M79.3,226.6h0.01M98.0,220.2h0.01M85.3,213.6h0.01M61.5,241.7h0.01M84.9,216.2h0.01M87.3,213.7h0.01M147.1,155.8h0.01M52.5,248.2h0.01M121.2,181.2h0.01M150.6,163.2h0.01M110.3,186.9h0.01M86.3,220.0h0.01M110.4,195.6h0.01M46.2,253.5h0.01M91.2,215.3h0.01M50.5,247.1h0.01M132.9,169.8h0.01M137.1,167.6h0.01M119.3,185.0h0.01M105.2,200.6h0.01M67.4,236.4h0.01M110.9,192.7h0.01M95.8,208.0h0.01M130.7,183.3h0.01M55.4,246.3h0.01M108.0,193.8h0.01M140.7,159.1h0.01M66.2,236.4h0.01M65.3,234.8h0.01M89.1,217.7h0.01M61.9,238.9h0.01M57.4,244.2h0.01M130.2,167.5h0.01M101.6,198.2h0.01M49.6,253.0h0.01M106.7,194.5h0.01M129.4,184.2h0.01M133.6,169.8h0.01M73.2,230.6h0.01M55.0,249.3h0.01M105.6,189.8h0.01M143.4,171.0h0.01M110.0,202.2h0.01M73.5,233.8h0.01M114.5,188.5h0.01M94.0,206.8h0.01M149.3,158.1h0.01M73.4,230.0h0.01M142.6,165.0h0.01M130.1,174.6h0.01M115.2,192.1h0.01M126.8,179.9h0.01M118.4,180.7h0.01M57.3,242.4h0.01M73.5,227.5h0.01M71.5,231.2h0.01M118.5,185.5h0.01M49.9,250.1h0.01M69.6,236.4h0.01M61.0,237.4h0.01M56.4,246.8h0.01M94.4,205.4h0.01M134.1,170.3h0.01M69.7,230.3h0.01M122.4,188.7h0.01M74.5,232.5h0.01M62.7,240.4h0.01M64.0,236.3h0.01M80.0,229.1h0.01M52.1,252.7h0.01M117.5,184.2h0.01M73.6,229.3h0.01M85.0,225.4h0.01M56.4,245.1h0.01M141.9,163.4h0.01M150.7,146.1h0.01M132.4,174.0h0.01M135.1,171.5h0.01M65.9,237.7h0.01M107.1,194.2h0.01M65.3,236.5h0.01M54.5,244.0h0.01M111.1,193.3h0.01M111.5,196.1h0.01M132.8,173.9h0.01M124.4,182.9h0.01M123.2,185.9h0.01M136.1,166.1h0.01M98.8,213.4h0.01M139.3,164.2h0.01M65.9,235.3h0.01M85.7,219.0h0.01M46.5,252.5h0.01M58.9,243.7h0.01M133.4,169.5h0.01M86.8,221.1h0.01M52.5,251.0h0.01M100.9,202.1h0.01M103.5,207.0h0.01M65.5,235.8h0.01M72.8,231.0h0.01M120.8,185.0h0.01M47.9,251.3h0.01M121.2,178.5h0.01M139.0,170.0h0.01M98.8,205.8h0.01M75.9,225.6h0.01M109.3,196.7h0.01M61.8,240.1h0.01M134.4,168.9h0.01M87.6,218.0h0.01M88.3,211.8h0.01M129.1,177.1h0.01M92.6,214.2h0.01M132.1,177.8h0.01M51.7,246.2h0.01M148.5,158.6h0.01M113.7,195.7h0.01M102.8,192.2h0.01M48.2,253.7h0.01M149.8,164.6h0.01M132.6,170.9h0.01M140.7,160.1h0.01M118.6,184.1h0.01M104.0,198.3h0.01M101.7,200.7h0.01M147.7,156.7h0.01M58.9,245.8h0.01M148.3,158.1h0.01M103.1,211.0h0.01M59.3,241.9h0.01M76.8,228.7h0.01M55.4,247.6h0.01M107.0,193.1h0.01M67.5,231.7h0.01M111.6,194.6h0.01M79.2,224.3h0.01M87.0,220.2h0.01M47.3,254.6h0.01M105.6,196.8h0.01M76.5,224.9h0.01M63.0,234.2h0.01M139.2,172.0h0.01M93.1,212.0h0.01M57.7,247.3h0.01M62.5,238.5h0.01M83.7,215.0h0.01M133.9,166.0h0.01M125.0,181.0h0.01M130.0,170.6h0.01M143.9,163.7h0.01M127.9,177.6h0.01M99.3,201.5h0.01M129.9,174.0h0.01M111.0,189.6h0.01M123.4,183.7h0.01M87.8,213.5h0.01M130.2,178.6h0.01M99.5,206.0h0.01M61.5,242.1h0.01M108.2,203.5h0.01M136.2,168.0h0.01M148.6,133.9h0.01M47.1,257.8h0.01M106.4,204.0h0.01M103.6,197.7h0.01M101.4,201.5h0.01M84.3,216.2h0.01M83.6,218.0h0.01M56.6,242.7h0.01M88.9,208.6h0.01M149.2,152.9h0.01M93.1,213.8h0.01M102.7,201.6h0.01M64.3,237.3h0.01M100.8,201.3h0.01M141.7,171.8h0.01M141.0,151.4h0.01M62.7,236.5h0.01M66.1,235.8h0.01M113.4,183.6h0.01M114.1,215.4h0.01M90.0,211.8h0.01M46.4,257.0h0.01M136.1,168.6h0.01M99.3,202.8h0.01M74.5,219.0h0.01M107.5,194.5h0.01M59.0,242.8h0.01M56.7,243.9h0.01M101.9,197.3h0.01M52.6,243.4h0.01M128.5,176.5h0.01M64.1,235.8h0.01M56.6,243.3h0.01M94.1,208.1h0.01M51.9,245.2h0.01M93.0,206.4h0.01M72.7,240.8h0.01M79.7,220.9h0.01M133.3,163.0h0.01M99.0,199.6h0.01M72.0,230.2h0.01M79.1,221.8h0.01M97.8,206.3h0.01M84.3,220.8h0.01M150.0,154.7h0.01M103.1,200.6h0.01M89.1,224.5h0.01M83.6,223.6h0.01M66.5,235.8h0.01M117.1,189.3h0.01M62.7,240.8h0.01M135.3,175.9h0.01M93.4,211.1h0.01M83.8,217.8h0.01M86.3,219.1h0.01M100.0,212.9h0.01M94.4,207.8h0.01M142.3,160.6h0.01M85.4,216.3h0.01M139.3,162.1h0.01M100.9,202.5h0.01M87.2,221.7h0.01M106.7,196.6h0.01M64.9,237.8h0.01M80.4,225.6h0.01M84.7,221.1h0.01M77.8,223.3h0.01M59.5,243.7h0.01M76.2,230.6h0.01M140.5,161.4h0.01M60.1,244.9h0.01M117.0,189.4h0.01M90.1,212.7h0.01M136.6,166.2h0.01M113.3,198.6h0.01M124.5,187.8h0.01M50.3,252.4h0.01M78.4,226.1h0.01M50.2,250.3h0.01M135.8,168.1h0.01M122.7,176.6h0.01M83.3,224.1h0.01M135.3,170.7h0.01M137.4,170.5h0.01M51.1,252.7h0.01M68.5,236.7h0.01M126.2,175.9h0.01M126.0,175.4h0.01M76.1,233.1h0.01M145.5,159.6h0.01M125.0,177.2h0.01M51.8,248.0h0.01M91.8,213.5h0.01M127.5,175.9h0.01M55.4,239.2h0.01M50.1,247.0h0.01M58.6,237.9h0.01M53.5,246.9h0.01M47.7,251.3h0.01M51.9,248.9h0.01M50.7,250.7h0.01M55.5,240.6h0.01M49.9,250.4h0.01M53.2,245.1h0.01M58.2,241.3h0.01M50.6,243.0h0.01M48.7,248.2h0.01M51.0,243.3h0.01M53.6,241.4h0.01M49.0,246.8h0.01M54.2,244.0h0.01M56.2,238.2h0.01M48.4,251.4h0.01M51.3,249.4h0.01M47.7,252.1h0.01M49.4,246.1h0.01M52.4,249.4h0.01M50.9,247.1h0.01M51.4,249.8h0.01M47.9,254.8h0.01M58.9,236.5h0.01M48.0,247.2h0.01M58.8,238.6h0.01M48.3,249.3h0.01M52.2,248.7h0.01M53.5,249.4h0.01M58.0,238.4h0.01M54.5,238.7h0.01M54.8,245.6h0.01M50.0,251.4h0.01M47.3,247.3h0.01M57.1,243.0h0.01M49.2,246.9h0.01M57.1,236.3h0.01M49.0,245.5h0.01M57.0,238.4h0.01M50.9,250.0h0.01M56.9,242.9h0.01M51.4,245.7h0.01M51.4,242.8h0.01M49.9,252.5h0.01M53.8,242.6h0.01M56.8,238.9h0.01M57.9,235.4h0.01M145.4,160.0h0.01M142.5,164.7h0.01M146.7,165.1h0.01M140.5,169.1h0.01M144.6,164.0h0.01M138.6,168.1h0.01M144.6,164.6h0.01M138.0,173.9h0.01M150.6,160.5h0.01M144.4,158.3h0.01M142.2,162.8h0.01M144.3,159.6h0.01M143.1,159.6h0.01M150.4,159.0h0.01M151.6,157.5h0.01M144.6,165.0h0.01M146.5,159.7h0.01M139.3,169.5h0.01M142.9,155.8h0.01M151.6,158.1h0.01M151.0,164.9h0.01M147.3,158.8h0.01M150.2,162.0h0.01M147.1,162.1h0.01M142.5,157.4h0.01M145.2,158.6h0.01M147.7,158.8h0.01M151.3,159.2h0.01M138.4,170.4h0.01M144.7,167.2h0.01M139.3,166.1h0.01M146.7,158.0h0.01M144.2,158.8h0.01M143.9,162.5h0.01M139.7,170.3h0.01M146.2,167.4h0.01M139.7,169.0h0.01M139.4,165.7h0.01M146.0,161.4h0.01M146.3,164.9h0.01M141.4,164.3h0.01M145.7,160.9h0.01M146.8,163.5h0.01M139.1,169.6h0.01M144.6,165.4h0.01M148.7,155.6h0.01M149.4,165.7h0.01M148.8,165.3h0.01M139.5,169.1h0.01M140.6,163.6h0.01M152.4,150.0h0.01M140.1,164.8h0.01M149.6,160.2h0.01M143.6,164.5h0.01M138.2,166.9h0.01M142.5,163.4h0.01M148.6,152.7h0.01M147.3,163.2h0.01M151.1,149.7h0.01M151.1,153.7h0.01M140.5,166.5h0.01M149.5,155.0h0.01M148.2,160.0h0.01M143.6,162.1h0.01M149.1,163.4h0.01M138.7,166.7h0.01M147.1,163.7h0.01M150.0,159.9h0.01M139.7,171.8h0.01M141.8,163.1h0.01M140.9,160.3h0.01M146.7,162.7h0.01M139.7,168.9h0.01M150.0,157.7h0.01M140.8,163.8h0.01M148.3,158.2h0.01M143.7,167.7h0.01M146.1,166.6h0.01M148.3,162.0h0.01M138.2,161.3h0.01M143.1,166.4h0.01M151.1,159.7h0.01M150.0,159.6h0.01M150.3,157.7h0.01M148.2,156.3h0.01M140.4,169.1h0.01M150.7,151.6h0.01M147.2,164.4h0.01M139.1,166.8h0.01M151.4,158.2h0.01M146.8,162.5h0.01M143.4,164.4h0.01M145.0,159.4h0.01M143.3,162.4h0.01M138.1,166.3h0.01M138.3,167.3h0.01M144.9,163.4h0.01M140.2,166.8h0.01M148.1,159.0h0.01M145.5,164.4h0.01M141.9,161.6h0.01M152.4,153.6h0.01M152.9,158.9h0.01M149.6,158.9h0.01M151.1,157.2h0.01M147.5,155.3h0.01M143.4,162.6h0.01M151.1,162.3h0.01M152.1,154.4h0.01M149.4,155.5h0.01" stroke="#787878" stroke-width="2.0" stroke-linecap="round" fill="none"/>
<line x1="58.00" y1="243.20" x2="150.00" y2="155.50" stroke="#8a8a8a" stroke-width="3.0" />
<line x1="139.00" y1="163.20" x2="152.50" y2="150.30" stroke="#8e8e8e" stroke-width="3.8" />
<line x1="44.80" y1="258.30" x2="163.40" y2="145.27" stroke="#ff8c00" stroke-width="2.0" />
<path d="M62.40,238.00 L83.00,221.10 L103.30,202.70 L123.10,184.60 L143.90,167.10" fill="none" stroke="#ff0000" stroke-width="2.0" stroke-linejoin="round"/>
<path d="M57.40,239.80 L79.00,222.20 L100.30,201.70 L119.60,183.40 L139.10,166.30" fill="none" stroke="#0000ff" stroke-width="2.0" stroke-linejoin="round"/>
<line x1="62.40" y1="228.80" x2="62.40" y2="247.70" stroke="#ff0000" stroke-width="2.0" />
<line x1="83.00" y1="212.30" x2="83.00" y2="231.20" stroke="#ff0000" stroke-width="2.0" />
<line x1="103.30" y1="194.40" x2="103.30" y2="211.50" stroke="#ff0000" stroke-width="2.0" />
<line x1="123.10" y1="175.40" x2="123.10" y2="192.10" stroke="#ff0000" stroke-width="2.0" />
<line x1="143.90" y1="158.60" x2="143.90" y2="173.80" stroke="#ff0000" stroke-width="2.0" />
<line x1="57.40" y1="234.60" x2="57.40" y2="246.20" stroke="#0000ff" stroke-width="2.0" />
<line x1="79.00" y1="215.00" x2="79.00" y2="229.20" stroke="#0000ff" stroke-width="2.0" />
<line x1="100.30" y1="194.70" x2="100.30" y2="207.00" stroke="#0000ff" stroke-width="2.0" />
<line x1="119.60" y1="176.00" x2="119.60" y2="189.40" stroke="#0000ff" stroke-width="2.0" />
<line x1="139.10" y1="157.60" x2="139.10" y2="172.50" stroke="#0000ff" stroke-width="2.0" />
</g>
<line x1="49.60" y1="140.10" x2="49.60" y2="148.70" stroke="#000" stroke-width="1.1" />
<line x1="49.60" y1="258.00" x2="49.60" y2="249.40" stroke="#000" stroke-width="1.1" />
<line x1="56.01" y1="140.10" x2="56.01" y2="144.40" stroke="#000" stroke-width="1.1" />
<line x1="56.01" y1="258.00" x2="56.01" y2="253.70" stroke="#000" stroke-width="1.1" />
<line x1="62.42" y1="140.10" x2="62.42" y2="144.40" stroke="#000" stroke-width="1.1" />
<line x1="62.42" y1="258.00" x2="62.42" y2="253.70" stroke="#000" stroke-width="1.1" />
<line x1="68.83" y1="140.10" x2="68.83" y2="144.40" stroke="#000" stroke-width="1.1" />
<line x1="68.83" y1="258.00" x2="68.83" y2="253.70" stroke="#000" stroke-width="1.1" />
<line x1="75.24" y1="140.10" x2="75.24" y2="148.70" stroke="#000" stroke-width="1.1" />
<line x1="75.24" y1="258.00" x2="75.24" y2="249.40" stroke="#000" stroke-width="1.1" />
<line x1="81.65" y1="140.10" x2="81.65" y2="144.40" stroke="#000" stroke-width="1.1" />
<line x1="81.65" y1="258.00" x2="81.65" y2="253.70" stroke="#000" stroke-width="1.1" />
<line x1="88.06" y1="140.10" x2="88.06" y2="144.40" stroke="#000" stroke-width="1.1" />
<line x1="88.06" y1="258.00" x2="88.06" y2="253.70" stroke="#000" stroke-width="1.1" />
<line x1="94.47" y1="140.10" x2="94.47" y2="144.40" stroke="#000" stroke-width="1.1" />
<line x1="94.47" y1="258.00" x2="94.47" y2="253.70" stroke="#000" stroke-width="1.1" />
<line x1="100.88" y1="140.10" x2="100.88" y2="148.70" stroke="#000" stroke-width="1.1" />
<line x1="100.88" y1="258.00" x2="100.88" y2="249.40" stroke="#000" stroke-width="1.1" />
<line x1="107.29" y1="140.10" x2="107.29" y2="144.40" stroke="#000" stroke-width="1.1" />
<line x1="107.29" y1="258.00" x2="107.29" y2="253.70" stroke="#000" stroke-width="1.1" />
<line x1="113.70" y1="140.10" x2="113.70" y2="144.40" stroke="#000" stroke-width="1.1" />
<line x1="113.70" y1="258.00" x2="113.70" y2="253.70" stroke="#000" stroke-width="1.1" />
<line x1="120.11" y1="140.10" x2="120.11" y2="144.40" stroke="#000" stroke-width="1.1" />
<line x1="120.11" y1="258.00" x2="120.11" y2="253.70" stroke="#000" stroke-width="1.1" />
<line x1="126.52" y1="140.10" x2="126.52" y2="148.70" stroke="#000" stroke-width="1.1" />
<line x1="126.52" y1="258.00" x2="126.52" y2="249.40" stroke="#000" stroke-width="1.1" />
<line x1="132.93" y1="140.10" x2="132.93" y2="144.40" stroke="#000" stroke-width="1.1" />
<line x1="132.93" y1="258.00" x2="132.93" y2="253.70" stroke="#000" stroke-width="1.1" />
<line x1="139.34" y1="140.10" x2="139.34" y2="144.40" stroke="#000" stroke-width="1.1" />
<line x1="139.34" y1="258.00" x2="139.34" y2="253.70" stroke="#000" stroke-width="1.1" />
<line x1="145.75" y1="140.10" x2="145.75" y2="144.40" stroke="#000" stroke-width="1.1" />
<line x1="145.75" y1="258.00" x2="145.75" y2="253.70" stroke="#000" stroke-width="1.1" />
<line x1="152.16" y1="140.10" x2="152.16" y2="148.70" stroke="#000" stroke-width="1.1" />
<line x1="152.16" y1="258.00" x2="152.16" y2="249.40" stroke="#000" stroke-width="1.1" />
<line x1="158.57" y1="140.10" x2="158.57" y2="144.40" stroke="#000" stroke-width="1.1" />
<line x1="158.57" y1="258.00" x2="158.57" y2="253.70" stroke="#000" stroke-width="1.1" />
<line x1="44.80" y1="253.30" x2="53.40" y2="253.30" stroke="#000" stroke-width="1.1" />
<line x1="163.40" y1="253.30" x2="154.80" y2="253.30" stroke="#000" stroke-width="1.1" />
<line x1="44.80" y1="247.28" x2="49.10" y2="247.28" stroke="#000" stroke-width="1.1" />
<line x1="163.40" y1="247.28" x2="159.10" y2="247.28" stroke="#000" stroke-width="1.1" />
<line x1="44.80" y1="241.26" x2="49.10" y2="241.26" stroke="#000" stroke-width="1.1" />
<line x1="163.40" y1="241.26" x2="159.10" y2="241.26" stroke="#000" stroke-width="1.1" />
<line x1="44.80" y1="235.24" x2="49.10" y2="235.24" stroke="#000" stroke-width="1.1" />
<line x1="163.40" y1="235.24" x2="159.10" y2="235.24" stroke="#000" stroke-width="1.1" />
<line x1="44.80" y1="229.22" x2="53.40" y2="229.22" stroke="#000" stroke-width="1.1" />
<line x1="163.40" y1="229.22" x2="154.80" y2="229.22" stroke="#000" stroke-width="1.1" />
<line x1="44.80" y1="223.20" x2="49.10" y2="223.20" stroke="#000" stroke-width="1.1" />
<line x1="163.40" y1="223.20" x2="159.10" y2="223.20" stroke="#000" stroke-width="1.1" />
<line x1="44.80" y1="217.18" x2="49.10" y2="217.18" stroke="#000" stroke-width="1.1" />
<line x1="163.40" y1="217.18" x2="159.10" y2="217.18" stroke="#000" stroke-width="1.1" />
<line x1="44.80" y1="211.16" x2="49.10" y2="211.16" stroke="#000" stroke-width="1.1" />
<line x1="163.40" y1="211.16" x2="159.10" y2="211.16" stroke="#000" stroke-width="1.1" />
<line x1="44.80" y1="205.14" x2="53.40" y2="205.14" stroke="#000" stroke-width="1.1" />
<line x1="163.40" y1="205.14" x2="154.80" y2="205.14" stroke="#000" stroke-width="1.1" />
<line x1="44.80" y1="199.12" x2="49.10" y2="199.12" stroke="#000" stroke-width="1.1" />
<line x1="163.40" y1="199.12" x2="159.10" y2="199.12" stroke="#000" stroke-width="1.1" />
<line x1="44.80" y1="193.10" x2="49.10" y2="193.10" stroke="#000" stroke-width="1.1" />
<line x1="163.40" y1="193.10" x2="159.10" y2="193.10" stroke="#000" stroke-width="1.1" />
<line x1="44.80" y1="187.08" x2="49.10" y2="187.08" stroke="#000" stroke-width="1.1" />
<line x1="163.40" y1="187.08" x2="159.10" y2="187.08" stroke="#000" stroke-width="1.1" />
<line x1="44.80" y1="181.06" x2="53.40" y2="181.06" stroke="#000" stroke-width="1.1" />
<line x1="163.40" y1="181.06" x2="154.80" y2="181.06" stroke="#000" stroke-width="1.1" />
<line x1="44.80" y1="175.04" x2="49.10" y2="175.04" stroke="#000" stroke-width="1.1" />
<line x1="163.40" y1="175.04" x2="159.10" y2="175.04" stroke="#000" stroke-width="1.1" />
<line x1="44.80" y1="169.02" x2="49.10" y2="169.02" stroke="#000" stroke-width="1.1" />
<line x1="163.40" y1="169.02" x2="159.10" y2="169.02" stroke="#000" stroke-width="1.1" />
<line x1="44.80" y1="163.00" x2="49.10" y2="163.00" stroke="#000" stroke-width="1.1" />
<line x1="163.40" y1="163.00" x2="159.10" y2="163.00" stroke="#000" stroke-width="1.1" />
<line x1="44.80" y1="156.98" x2="53.40" y2="156.98" stroke="#000" stroke-width="1.1" />
<line x1="163.40" y1="156.98" x2="154.80" y2="156.98" stroke="#000" stroke-width="1.1" />
<line x1="44.80" y1="150.96" x2="49.10" y2="150.96" stroke="#000" stroke-width="1.1" />
<line x1="163.40" y1="150.96" x2="159.10" y2="150.96" stroke="#000" stroke-width="1.1" />
<line x1="44.80" y1="144.94" x2="49.10" y2="144.94" stroke="#000" stroke-width="1.1" />
<line x1="163.40" y1="144.94" x2="159.10" y2="144.94" stroke="#000" stroke-width="1.1" />
<rect x="44.80" y="140.10" width="118.60" height="117.90" fill="none" stroke="#000" stroke-width="1.35"/>
<clipPath id="c1"><rect x="192.8" y="140.1" width="118.39999999999998" height="117.9"/></clipPath>
<g clip-path="url(#c1)">
<path d="M272.9,172.1h0.01M253.3,190.2h0.01M202.3,236.2h0.01M246.1,205.7h0.01M221.3,221.0h0.01M196.8,245.9h0.01M243.1,199.5h0.01M213.6,226.3h0.01M227.4,215.7h0.01M293.5,151.2h0.01M291.8,157.4h0.01M256.4,189.9h0.01M233.1,206.1h0.01M203.0,241.2h0.01M289.5,158.1h0.01M213.1,230.1h0.01M269.3,175.7h0.01M258.7,188.0h0.01M263.4,181.9h0.01M258.5,167.2h0.01M280.2,166.1h0.01M215.6,228.4h0.01M287.0,162.0h0.01M230.0,212.9h0.01M263.5,181.4h0.01M202.0,237.8h0.01M200.7,239.6h0.01M258.2,190.0h0.01M244.2,209.5h0.01M298.7,145.0h0.01M259.9,185.3h0.01M212.2,231.3h0.01M275.8,174.2h0.01M252.0,190.7h0.01M253.7,189.7h0.01M273.1,172.1h0.01M270.0,176.7h0.01M276.4,168.2h0.01M243.1,195.4h0.01M209.7,230.0h0.01M245.5,199.7h0.01M298.9,146.9h0.01M274.7,176.1h0.01M202.3,239.9h0.01M253.7,193.9h0.01M211.5,230.1h0.01M272.7,174.2h0.01M276.9,170.4h0.01M298.2,148.5h0.01M279.3,165.9h0.01M229.7,217.3h0.01M202.8,241.8h0.01M237.8,209.6h0.01M238.6,206.9h0.01M294.3,154.0h0.01M223.3,222.0h0.01M220.1,223.2h0.01M227.0,212.8h0.01M218.5,227.3h0.01M286.4,165.4h0.01M274.2,172.0h0.01M246.5,200.6h0.01M212.8,227.5h0.01M256.2,187.6h0.01M217.8,222.2h0.01M285.8,165.1h0.01M285.9,161.4h0.01M207.6,235.2h0.01M197.0,247.1h0.01M206.1,239.5h0.01M267.0,169.9h0.01M270.5,180.8h0.01M297.9,151.7h0.01M267.7,192.3h0.01M248.5,195.4h0.01M198.1,244.1h0.01M228.9,216.9h0.01M210.1,234.4h0.01M214.6,230.7h0.01M248.1,200.3h0.01M232.8,213.3h0.01M218.4,223.4h0.01M287.8,159.5h0.01M223.5,224.6h0.01M200.5,238.5h0.01M233.7,215.7h0.01M267.6,175.5h0.01M267.8,177.5h0.01M286.9,158.7h0.01M239.6,206.1h0.01M236.3,206.7h0.01M299.8,150.8h0.01M259.2,186.3h0.01M235.2,212.5h0.01M216.6,228.7h0.01M290.5,145.8h0.01M268.2,176.1h0.01M228.8,212.2h0.01M196.1,247.3h0.01M257.6,185.5h0.01M220.4,222.6h0.01M270.1,173.8h0.01M250.7,193.4h0.01M261.4,182.3h0.01M219.2,223.3h0.01M245.2,205.2h0.01M250.3,195.0h0.01M292.4,156.8h0.01M250.5,195.3h0.01M213.9,227.0h0.01M243.9,203.4h0.01M286.2,146.6h0.01M235.7,209.0h0.01M212.0,229.3h0.01M206.7,236.6h0.01M243.1,192.6h0.01M237.1,206.1h0.01M245.7,196.4h0.01M274.9,170.7h0.01M250.2,192.7h0.01M234.6,209.1h0.01M216.9,226.3h0.01M202.0,239.5h0.01M229.7,212.0h0.01M282.8,154.3h0.01M217.0,222.0h0.01M278.4,168.0h0.01M242.0,203.1h0.01M270.1,173.1h0.01M280.3,168.8h0.01M236.1,209.6h0.01M297.0,150.4h0.01M234.7,208.9h0.01M274.6,172.9h0.01M250.7,198.0h0.01M198.7,240.5h0.01M244.1,202.0h0.01M245.3,197.2h0.01M241.7,197.9h0.01M265.7,180.0h0.01M237.8,202.3h0.01M276.0,167.8h0.01M208.3,238.3h0.01M206.6,242.3h0.01M274.3,176.0h0.01M270.0,177.8h0.01M201.7,237.2h0.01M299.8,150.2h0.01M286.7,159.2h0.01M196.6,247.6h0.01M224.6,218.1h0.01M285.3,163.9h0.01M249.1,198.0h0.01M286.1,162.0h0.01M285.1,162.5h0.01M251.8,194.2h0.01M244.3,198.3h0.01M279.4,166.4h0.01M291.6,158.3h0.01M251.4,194.4h0.01M254.8,189.9h0.01M226.3,221.8h0.01M279.5,161.7h0.01M242.3,204.0h0.01M202.0,239.4h0.01M285.7,159.8h0.01M258.0,190.5h0.01M279.3,166.1h0.01M266.1,179.5h0.01M283.2,165.8h0.01M291.5,157.3h0.01M277.6,170.0h0.01M239.1,204.9h0.01M267.3,184.5h0.01M201.9,244.8h0.01M226.5,218.3h0.01M256.5,187.6h0.01M290.8,156.3h0.01M283.5,166.0h0.01M236.7,186.7h0.01M235.5,209.1h0.01M205.7,239.6h0.01M271.7,174.2h0.01M282.2,163.9h0.01M292.0,158.7h0.01M226.2,216.1h0.01M274.0,173.6h0.01M246.4,197.9h0.01M258.2,188.6h0.01M224.2,219.9h0.01M283.9,164.0h0.01M258.3,187.0h0.01M231.8,211.6h0.01M230.6,212.4h0.01M221.7,223.5h0.01M227.0,228.9h0.01M254.2,178.2h0.01M257.9,186.2h0.01M199.5,245.3h0.01M209.7,234.8h0.01M232.7,210.4h0.01M213.6,227.7h0.01M230.5,215.4h0.01M211.5,224.7h0.01M287.4,156.9h0.01M208.2,234.2h0.01M213.1,227.1h0.01M216.6,226.2h0.01M217.2,226.1h0.01M248.2,202.0h0.01M197.6,239.5h0.01M255.3,190.4h0.01M219.8,224.4h0.01M199.2,244.2h0.01M249.9,196.0h0.01M256.2,188.6h0.01M257.9,187.4h0.01M221.6,220.7h0.01M298.2,141.2h0.01M280.7,163.7h0.01M280.3,167.1h0.01M293.8,154.0h0.01M238.3,206.4h0.01M266.6,183.8h0.01M231.8,212.6h0.01M230.4,215.1h0.01M299.7,145.6h0.01M277.0,170.2h0.01M274.2,173.6h0.01M284.0,166.8h0.01M205.6,235.6h0.01M296.4,152.9h0.01M273.5,176.0h0.01M290.1,152.2h0.01M282.6,162.3h0.01M281.8,163.8h0.01M286.6,164.0h0.01M294.4,152.8h0.01M296.7,151.3h0.01M220.1,227.9h0.01M243.6,195.3h0.01M267.3,179.2h0.01M236.8,208.5h0.01M293.9,150.2h0.01M238.2,197.5h0.01M231.3,208.5h0.01M283.0,167.3h0.01M197.7,244.0h0.01M280.5,164.3h0.01M230.9,211.2h0.01M232.8,209.6h0.01M205.1,235.5h0.01M268.9,174.9h0.01M208.6,229.8h0.01M200.3,242.3h0.01M295.6,154.4h0.01M219.3,219.5h0.01M237.0,203.7h0.01M295.4,154.3h0.01M282.4,164.7h0.01M250.8,202.8h0.01M243.3,206.9h0.01M222.1,223.8h0.01M285.7,163.7h0.01M235.2,211.9h0.01M203.9,235.8h0.01M242.2,199.9h0.01M261.7,187.0h0.01M250.3,197.3h0.01M233.8,208.5h0.01M201.9,238.6h0.01M242.6,199.0h0.01M288.7,158.9h0.01M229.8,213.2h0.01M295.1,155.0h0.01M256.0,197.7h0.01M236.8,206.1h0.01M275.3,169.8h0.01M252.6,196.4h0.01M279.7,166.8h0.01M235.6,207.5h0.01M224.9,214.7h0.01M255.8,190.3h0.01M210.5,229.6h0.01M287.2,160.1h0.01M228.4,210.4h0.01M227.0,223.1h0.01M215.5,226.0h0.01M294.1,152.6h0.01M207.3,237.5h0.01M237.0,209.2h0.01M217.2,225.2h0.01M242.8,198.8h0.01M228.7,211.5h0.01M274.7,168.3h0.01M274.3,171.0h0.01M233.7,208.2h0.01M261.5,183.9h0.01M276.2,175.2h0.01M232.8,208.2h0.01M199.2,240.8h0.01M202.6,238.7h0.01M205.0,233.9h0.01M205.7,231.9h0.01M197.3,241.0h0.01M207.6,236.9h0.01M203.6,234.8h0.01M200.7,234.4h0.01M207.3,233.0h0.01M200.7,236.6h0.01M205.7,233.5h0.01M206.5,235.5h0.01M202.4,233.3h0.01M206.8,233.0h0.01M197.6,241.6h0.01M201.0,240.0h0.01M202.0,240.7h0.01M202.9,233.7h0.01M200.8,237.0h0.01M206.1,233.2h0.01M205.5,235.8h0.01M204.1,234.7h0.01M205.0,228.8h0.01M206.8,233.6h0.01M204.9,237.3h0.01M206.5,229.9h0.01M197.6,240.9h0.01M203.3,232.4h0.01M199.3,244.3h0.01M205.9,236.1h0.01M199.3,241.1h0.01M197.1,244.7h0.01M204.1,241.5h0.01M200.3,238.8h0.01M204.4,241.0h0.01M199.9,242.6h0.01M196.0,242.5h0.01M199.3,239.4h0.01M196.7,239.5h0.01M205.7,235.9h0.01M196.5,243.9h0.01M198.7,239.9h0.01M203.6,235.2h0.01M202.8,239.6h0.01M198.6,241.8h0.01M206.1,232.3h0.01M205.7,233.9h0.01M205.3,234.8h0.01M196.3,240.2h0.01M196.8,242.9h0.01M203.6,236.0h0.01M200.8,235.3h0.01M202.1,236.1h0.01M206.4,232.8h0.01M207.9,235.1h0.01M200.0,232.8h0.01M207.8,235.7h0.01M197.6,243.7h0.01M201.4,236.7h0.01M201.5,234.3h0.01" stroke="#787878" stroke-width="2.0" stroke-linecap="round" fill="none"/>
<line x1="195.00" y1="247.00" x2="297.00" y2="152.30" stroke="#8a8a8a" stroke-width="2.6" />
<line x1="192.80" y1="246.70" x2="306.90" y2="140.10" stroke="#ff8c00" stroke-width="2.0" />
<path d="M212.90,232.40 L231.90,214.90 L251.80,196.10 L271.20,178.20 L290.70,159.90" fill="none" stroke="#ff0000" stroke-width="2.0" stroke-linejoin="round"/>
<path d="M205.00,233.00 L224.00,216.20 L243.90,196.80 L265.40,177.00 L283.60,159.20" fill="none" stroke="#0000ff" stroke-width="2.0" stroke-linejoin="round"/>
<line x1="212.90" y1="226.40" x2="212.90" y2="238.30" stroke="#ff0000" stroke-width="2.0" />
<line x1="231.90" y1="208.60" x2="231.90" y2="221.10" stroke="#ff0000" stroke-width="2.0" />
<line x1="251.80" y1="189.80" x2="251.80" y2="202.40" stroke="#ff0000" stroke-width="2.0" />
<line x1="271.20" y1="172.00" x2="271.20" y2="184.50" stroke="#ff0000" stroke-width="2.0" />
<line x1="290.70" y1="154.50" x2="290.70" y2="165.20" stroke="#ff0000" stroke-width="2.0" />
<line x1="205.00" y1="227.10" x2="205.00" y2="239.00" stroke="#0000ff" stroke-width="2.0" />
<line x1="224.00" y1="211.20" x2="224.00" y2="221.10" stroke="#0000ff" stroke-width="2.0" />
<line x1="243.90" y1="191.10" x2="243.90" y2="202.40" stroke="#0000ff" stroke-width="2.0" />
<line x1="265.40" y1="172.00" x2="265.40" y2="181.90" stroke="#0000ff" stroke-width="2.0" />
<line x1="283.60" y1="154.10" x2="283.60" y2="164.20" stroke="#0000ff" stroke-width="2.0" />
</g>
<line x1="199.22" y1="140.10" x2="199.22" y2="144.40" stroke="#000" stroke-width="1.1" />
<line x1="199.22" y1="258.00" x2="199.22" y2="253.70" stroke="#000" stroke-width="1.1" />
<line x1="206.26" y1="140.10" x2="206.26" y2="144.40" stroke="#000" stroke-width="1.1" />
<line x1="206.26" y1="258.00" x2="206.26" y2="253.70" stroke="#000" stroke-width="1.1" />
<line x1="213.30" y1="140.10" x2="213.30" y2="148.70" stroke="#000" stroke-width="1.1" />
<line x1="213.30" y1="258.00" x2="213.30" y2="249.40" stroke="#000" stroke-width="1.1" />
<line x1="220.34" y1="140.10" x2="220.34" y2="144.40" stroke="#000" stroke-width="1.1" />
<line x1="220.34" y1="258.00" x2="220.34" y2="253.70" stroke="#000" stroke-width="1.1" />
<line x1="227.38" y1="140.10" x2="227.38" y2="144.40" stroke="#000" stroke-width="1.1" />
<line x1="227.38" y1="258.00" x2="227.38" y2="253.70" stroke="#000" stroke-width="1.1" />
<line x1="234.42" y1="140.10" x2="234.42" y2="144.40" stroke="#000" stroke-width="1.1" />
<line x1="234.42" y1="258.00" x2="234.42" y2="253.70" stroke="#000" stroke-width="1.1" />
<line x1="241.46" y1="140.10" x2="241.46" y2="144.40" stroke="#000" stroke-width="1.1" />
<line x1="241.46" y1="258.00" x2="241.46" y2="253.70" stroke="#000" stroke-width="1.1" />
<line x1="248.50" y1="140.10" x2="248.50" y2="148.70" stroke="#000" stroke-width="1.1" />
<line x1="248.50" y1="258.00" x2="248.50" y2="249.40" stroke="#000" stroke-width="1.1" />
<line x1="255.54" y1="140.10" x2="255.54" y2="144.40" stroke="#000" stroke-width="1.1" />
<line x1="255.54" y1="258.00" x2="255.54" y2="253.70" stroke="#000" stroke-width="1.1" />
<line x1="262.58" y1="140.10" x2="262.58" y2="144.40" stroke="#000" stroke-width="1.1" />
<line x1="262.58" y1="258.00" x2="262.58" y2="253.70" stroke="#000" stroke-width="1.1" />
<line x1="269.62" y1="140.10" x2="269.62" y2="144.40" stroke="#000" stroke-width="1.1" />
<line x1="269.62" y1="258.00" x2="269.62" y2="253.70" stroke="#000" stroke-width="1.1" />
<line x1="276.66" y1="140.10" x2="276.66" y2="144.40" stroke="#000" stroke-width="1.1" />
<line x1="276.66" y1="258.00" x2="276.66" y2="253.70" stroke="#000" stroke-width="1.1" />
<line x1="283.70" y1="140.10" x2="283.70" y2="148.70" stroke="#000" stroke-width="1.1" />
<line x1="283.70" y1="258.00" x2="283.70" y2="249.40" stroke="#000" stroke-width="1.1" />
<line x1="290.74" y1="140.10" x2="290.74" y2="144.40" stroke="#000" stroke-width="1.1" />
<line x1="290.74" y1="258.00" x2="290.74" y2="253.70" stroke="#000" stroke-width="1.1" />
<line x1="297.78" y1="140.10" x2="297.78" y2="144.40" stroke="#000" stroke-width="1.1" />
<line x1="297.78" y1="258.00" x2="297.78" y2="253.70" stroke="#000" stroke-width="1.1" />
<line x1="304.82" y1="140.10" x2="304.82" y2="144.40" stroke="#000" stroke-width="1.1" />
<line x1="304.82" y1="258.00" x2="304.82" y2="253.70" stroke="#000" stroke-width="1.1" />
<line x1="192.80" y1="255.20" x2="197.10" y2="255.20" stroke="#000" stroke-width="1.1" />
<line x1="311.20" y1="255.20" x2="306.90" y2="255.20" stroke="#000" stroke-width="1.1" />
<line x1="192.80" y1="248.60" x2="197.10" y2="248.60" stroke="#000" stroke-width="1.1" />
<line x1="311.20" y1="248.60" x2="306.90" y2="248.60" stroke="#000" stroke-width="1.1" />
<line x1="192.80" y1="242.00" x2="197.10" y2="242.00" stroke="#000" stroke-width="1.1" />
<line x1="311.20" y1="242.00" x2="306.90" y2="242.00" stroke="#000" stroke-width="1.1" />
<line x1="192.80" y1="235.40" x2="197.10" y2="235.40" stroke="#000" stroke-width="1.1" />
<line x1="311.20" y1="235.40" x2="306.90" y2="235.40" stroke="#000" stroke-width="1.1" />
<line x1="192.80" y1="228.80" x2="201.40" y2="228.80" stroke="#000" stroke-width="1.1" />
<line x1="311.20" y1="228.80" x2="302.60" y2="228.80" stroke="#000" stroke-width="1.1" />
<line x1="192.80" y1="222.20" x2="197.10" y2="222.20" stroke="#000" stroke-width="1.1" />
<line x1="311.20" y1="222.20" x2="306.90" y2="222.20" stroke="#000" stroke-width="1.1" />
<line x1="192.80" y1="215.60" x2="197.10" y2="215.60" stroke="#000" stroke-width="1.1" />
<line x1="311.20" y1="215.60" x2="306.90" y2="215.60" stroke="#000" stroke-width="1.1" />
<line x1="192.80" y1="209.00" x2="197.10" y2="209.00" stroke="#000" stroke-width="1.1" />
<line x1="311.20" y1="209.00" x2="306.90" y2="209.00" stroke="#000" stroke-width="1.1" />
<line x1="192.80" y1="202.40" x2="197.10" y2="202.40" stroke="#000" stroke-width="1.1" />
<line x1="311.20" y1="202.40" x2="306.90" y2="202.40" stroke="#000" stroke-width="1.1" />
<line x1="192.80" y1="195.80" x2="201.40" y2="195.80" stroke="#000" stroke-width="1.1" />
<line x1="311.20" y1="195.80" x2="302.60" y2="195.80" stroke="#000" stroke-width="1.1" />
<line x1="192.80" y1="189.20" x2="197.10" y2="189.20" stroke="#000" stroke-width="1.1" />
<line x1="311.20" y1="189.20" x2="306.90" y2="189.20" stroke="#000" stroke-width="1.1" />
<line x1="192.80" y1="182.60" x2="197.10" y2="182.60" stroke="#000" stroke-width="1.1" />
<line x1="311.20" y1="182.60" x2="306.90" y2="182.60" stroke="#000" stroke-width="1.1" />
<line x1="192.80" y1="176.00" x2="197.10" y2="176.00" stroke="#000" stroke-width="1.1" />
<line x1="311.20" y1="176.00" x2="306.90" y2="176.00" stroke="#000" stroke-width="1.1" />
<line x1="192.80" y1="169.40" x2="197.10" y2="169.40" stroke="#000" stroke-width="1.1" />
<line x1="311.20" y1="169.40" x2="306.90" y2="169.40" stroke="#000" stroke-width="1.1" />
<line x1="192.80" y1="162.80" x2="201.40" y2="162.80" stroke="#000" stroke-width="1.1" />
<line x1="311.20" y1="162.80" x2="302.60" y2="162.80" stroke="#000" stroke-width="1.1" />
<line x1="192.80" y1="156.20" x2="197.10" y2="156.20" stroke="#000" stroke-width="1.1" />
<line x1="311.20" y1="156.20" x2="306.90" y2="156.20" stroke="#000" stroke-width="1.1" />
<line x1="192.80" y1="149.60" x2="197.10" y2="149.60" stroke="#000" stroke-width="1.1" />
<line x1="311.20" y1="149.60" x2="306.90" y2="149.60" stroke="#000" stroke-width="1.1" />
<line x1="192.80" y1="143.00" x2="197.10" y2="143.00" stroke="#000" stroke-width="1.1" />
<line x1="311.20" y1="143.00" x2="306.90" y2="143.00" stroke="#000" stroke-width="1.1" />
<rect x="192.80" y="140.10" width="118.40" height="117.90" fill="none" stroke="#000" stroke-width="1.35"/>
<clipPath id="c2"><rect x="340.9" y="140.1" width="118.20000000000005" height="117.9"/></clipPath>
<g clip-path="url(#c2)">
<path d="M428.5,175.1h0.01M425.5,169.5h0.01M447.8,155.5h0.01M447.0,153.5h0.01" stroke="#787878" stroke-width="2.0" stroke-linecap="round" fill="none"/>
<line x1="352.00" y1="248.60" x2="450.00" y2="151.40" stroke="#8a8a8a" stroke-width="2.2" />
<line x1="340.90" y1="257.60" x2="459.10" y2="140.30" stroke="#ff8c00" stroke-width="2.0" />
<path d="M362.40,240.10 L382.70,219.70 L403.40,199.50 L423.60,179.10 L443.00,159.60" fill="none" stroke="#ff0000" stroke-width="2.0" stroke-linejoin="round"/>
<path d="M357.20,239.20 L378.00,217.70 L399.80,196.20 L418.10,177.40 L438.30,157.60" fill="none" stroke="#0000ff" stroke-width="2.0" stroke-linejoin="round"/>
<line x1="362.40" y1="234.50" x2="362.40" y2="245.70" stroke="#ff0000" stroke-width="2.0" />
<line x1="382.70" y1="213.70" x2="382.70" y2="225.70" stroke="#ff0000" stroke-width="2.0" />
<line x1="403.40" y1="193.20" x2="403.40" y2="205.80" stroke="#ff0000" stroke-width="2.0" />
<line x1="423.60" y1="172.50" x2="423.60" y2="185.70" stroke="#ff0000" stroke-width="2.0" />
<line x1="443.00" y1="153.20" x2="443.00" y2="166.00" stroke="#ff0000" stroke-width="2.0" />
<line x1="357.20" y1="233.90" x2="357.20" y2="244.40" stroke="#0000ff" stroke-width="2.0" />
<line x1="378.00" y1="212.40" x2="378.00" y2="223.00" stroke="#0000ff" stroke-width="2.0" />
<line x1="399.80" y1="190.60" x2="399.80" y2="201.80" stroke="#0000ff" stroke-width="2.0" />
<line x1="418.10" y1="171.80" x2="418.10" y2="183.00" stroke="#0000ff" stroke-width="2.0" />
<line x1="438.30" y1="152.60" x2="438.30" y2="162.50" stroke="#0000ff" stroke-width="2.0" />
</g>
<line x1="341.70" y1="140.10" x2="341.70" y2="148.70" stroke="#000" stroke-width="1.1" />
<line x1="341.70" y1="258.00" x2="341.70" y2="249.40" stroke="#000" stroke-width="1.1" />
<line x1="347.15" y1="140.10" x2="347.15" y2="144.40" stroke="#000" stroke-width="1.1" />
<line x1="347.15" y1="258.00" x2="347.15" y2="253.70" stroke="#000" stroke-width="1.1" />
<line x1="352.60" y1="140.10" x2="352.60" y2="144.40" stroke="#000" stroke-width="1.1" />
<line x1="352.60" y1="258.00" x2="352.60" y2="253.70" stroke="#000" stroke-width="1.1" />
<line x1="358.06" y1="140.10" x2="358.06" y2="144.40" stroke="#000" stroke-width="1.1" />
<line x1="358.06" y1="258.00" x2="358.06" y2="253.70" stroke="#000" stroke-width="1.1" />
<line x1="363.51" y1="140.10" x2="363.51" y2="144.40" stroke="#000" stroke-width="1.1" />
<line x1="363.51" y1="258.00" x2="363.51" y2="253.70" stroke="#000" stroke-width="1.1" />
<line x1="368.96" y1="140.10" x2="368.96" y2="148.70" stroke="#000" stroke-width="1.1" />
<line x1="368.96" y1="258.00" x2="368.96" y2="249.40" stroke="#000" stroke-width="1.1" />
<line x1="374.41" y1="140.10" x2="374.41" y2="144.40" stroke="#000" stroke-width="1.1" />
<line x1="374.41" y1="258.00" x2="374.41" y2="253.70" stroke="#000" stroke-width="1.1" />
<line x1="379.86" y1="140.10" x2="379.86" y2="144.40" stroke="#000" stroke-width="1.1" />
<line x1="379.86" y1="258.00" x2="379.86" y2="253.70" stroke="#000" stroke-width="1.1" />
<line x1="385.32" y1="140.10" x2="385.32" y2="144.40" stroke="#000" stroke-width="1.1" />
<line x1="385.32" y1="258.00" x2="385.32" y2="253.70" stroke="#000" stroke-width="1.1" />
<line x1="390.77" y1="140.10" x2="390.77" y2="144.40" stroke="#000" stroke-width="1.1" />
<line x1="390.77" y1="258.00" x2="390.77" y2="253.70" stroke="#000" stroke-width="1.1" />
<line x1="396.22" y1="140.10" x2="396.22" y2="148.70" stroke="#000" stroke-width="1.1" />
<line x1="396.22" y1="258.00" x2="396.22" y2="249.40" stroke="#000" stroke-width="1.1" />
<line x1="401.67" y1="140.10" x2="401.67" y2="144.40" stroke="#000" stroke-width="1.1" />
<line x1="401.67" y1="258.00" x2="401.67" y2="253.70" stroke="#000" stroke-width="1.1" />
<line x1="407.12" y1="140.10" x2="407.12" y2="144.40" stroke="#000" stroke-width="1.1" />
<line x1="407.12" y1="258.00" x2="407.12" y2="253.70" stroke="#000" stroke-width="1.1" />
<line x1="412.58" y1="140.10" x2="412.58" y2="144.40" stroke="#000" stroke-width="1.1" />
<line x1="412.58" y1="258.00" x2="412.58" y2="253.70" stroke="#000" stroke-width="1.1" />
<line x1="418.03" y1="140.10" x2="418.03" y2="144.40" stroke="#000" stroke-width="1.1" />
<line x1="418.03" y1="258.00" x2="418.03" y2="253.70" stroke="#000" stroke-width="1.1" />
<line x1="423.48" y1="140.10" x2="423.48" y2="148.70" stroke="#000" stroke-width="1.1" />
<line x1="423.48" y1="258.00" x2="423.48" y2="249.40" stroke="#000" stroke-width="1.1" />
<line x1="428.93" y1="140.10" x2="428.93" y2="144.40" stroke="#000" stroke-width="1.1" />
<line x1="428.93" y1="258.00" x2="428.93" y2="253.70" stroke="#000" stroke-width="1.1" />
<line x1="434.38" y1="140.10" x2="434.38" y2="144.40" stroke="#000" stroke-width="1.1" />
<line x1="434.38" y1="258.00" x2="434.38" y2="253.70" stroke="#000" stroke-width="1.1" />
<line x1="439.84" y1="140.10" x2="439.84" y2="144.40" stroke="#000" stroke-width="1.1" />
<line x1="439.84" y1="258.00" x2="439.84" y2="253.70" stroke="#000" stroke-width="1.1" />
<line x1="445.29" y1="140.10" x2="445.29" y2="144.40" stroke="#000" stroke-width="1.1" />
<line x1="445.29" y1="258.00" x2="445.29" y2="253.70" stroke="#000" stroke-width="1.1" />
<line x1="450.74" y1="140.10" x2="450.74" y2="148.70" stroke="#000" stroke-width="1.1" />
<line x1="450.74" y1="258.00" x2="450.74" y2="249.40" stroke="#000" stroke-width="1.1" />
<line x1="456.19" y1="140.10" x2="456.19" y2="144.40" stroke="#000" stroke-width="1.1" />
<line x1="456.19" y1="258.00" x2="456.19" y2="253.70" stroke="#000" stroke-width="1.1" />
<line x1="340.90" y1="256.40" x2="349.50" y2="256.40" stroke="#000" stroke-width="1.1" />
<line x1="459.10" y1="256.40" x2="450.50" y2="256.40" stroke="#000" stroke-width="1.1" />
<line x1="340.90" y1="250.99" x2="345.20" y2="250.99" stroke="#000" stroke-width="1.1" />
<line x1="459.10" y1="250.99" x2="454.80" y2="250.99" stroke="#000" stroke-width="1.1" />
<line x1="340.90" y1="245.58" x2="345.20" y2="245.58" stroke="#000" stroke-width="1.1" />
<line x1="459.10" y1="245.58" x2="454.80" y2="245.58" stroke="#000" stroke-width="1.1" />
<line x1="340.90" y1="240.17" x2="345.20" y2="240.17" stroke="#000" stroke-width="1.1" />
<line x1="459.10" y1="240.17" x2="454.80" y2="240.17" stroke="#000" stroke-width="1.1" />
<line x1="340.90" y1="234.76" x2="345.20" y2="234.76" stroke="#000" stroke-width="1.1" />
<line x1="459.10" y1="234.76" x2="454.80" y2="234.76" stroke="#000" stroke-width="1.1" />
<line x1="340.90" y1="229.35" x2="349.50" y2="229.35" stroke="#000" stroke-width="1.1" />
<line x1="459.10" y1="229.35" x2="450.50" y2="229.35" stroke="#000" stroke-width="1.1" />
<line x1="340.90" y1="223.94" x2="345.20" y2="223.94" stroke="#000" stroke-width="1.1" />
<line x1="459.10" y1="223.94" x2="454.80" y2="223.94" stroke="#000" stroke-width="1.1" />
<line x1="340.90" y1="218.53" x2="345.20" y2="218.53" stroke="#000" stroke-width="1.1" />
<line x1="459.10" y1="218.53" x2="454.80" y2="218.53" stroke="#000" stroke-width="1.1" />
<line x1="340.90" y1="213.12" x2="345.20" y2="213.12" stroke="#000" stroke-width="1.1" />
<line x1="459.10" y1="213.12" x2="454.80" y2="213.12" stroke="#000" stroke-width="1.1" />
<line x1="340.90" y1="207.71" x2="345.20" y2="207.71" stroke="#000" stroke-width="1.1" />
<line x1="459.10" y1="207.71" x2="454.80" y2="207.71" stroke="#000" stroke-width="1.1" />
<line x1="340.90" y1="202.30" x2="349.50" y2="202.30" stroke="#000" stroke-width="1.1" />
<line x1="459.10" y1="202.30" x2="450.50" y2="202.30" stroke="#000" stroke-width="1.1" />
<line x1="340.90" y1="196.89" x2="345.20" y2="196.89" stroke="#000" stroke-width="1.1" />
<line x1="459.10" y1="196.89" x2="454.80" y2="196.89" stroke="#000" stroke-width="1.1" />
<line x1="340.90" y1="191.48" x2="345.20" y2="191.48" stroke="#000" stroke-width="1.1" />
<line x1="459.10" y1="191.48" x2="454.80" y2="191.48" stroke="#000" stroke-width="1.1" />
<line x1="340.90" y1="186.07" x2="345.20" y2="186.07" stroke="#000" stroke-width="1.1" />
<line x1="459.10" y1="186.07" x2="454.80" y2="186.07" stroke="#000" stroke-width="1.1" />
<line x1="340.90" y1="180.66" x2="345.20" y2="180.66" stroke="#000" stroke-width="1.1" />
<line x1="459.10" y1="180.66" x2="454.80" y2="180.66" stroke="#000" stroke-width="1.1" />
<line x1="340.90" y1="175.25" x2="349.50" y2="175.25" stroke="#000" stroke-width="1.1" />
<line x1="459.10" y1="175.25" x2="450.50" y2="175.25" stroke="#000" stroke-width="1.1" />
<line x1="340.90" y1="169.84" x2="345.20" y2="169.84" stroke="#000" stroke-width="1.1" />
<line x1="459.10" y1="169.84" x2="454.80" y2="169.84" stroke="#000" stroke-width="1.1" />
<line x1="340.90" y1="164.43" x2="345.20" y2="164.43" stroke="#000" stroke-width="1.1" />
<line x1="459.10" y1="164.43" x2="454.80" y2="164.43" stroke="#000" stroke-width="1.1" />
<line x1="340.90" y1="159.02" x2="345.20" y2="159.02" stroke="#000" stroke-width="1.1" />
<line x1="459.10" y1="159.02" x2="454.80" y2="159.02" stroke="#000" stroke-width="1.1" />
<line x1="340.90" y1="153.61" x2="345.20" y2="153.61" stroke="#000" stroke-width="1.1" />
<line x1="459.10" y1="153.61" x2="454.80" y2="153.61" stroke="#000" stroke-width="1.1" />
<line x1="340.90" y1="148.20" x2="349.50" y2="148.20" stroke="#000" stroke-width="1.1" />
<line x1="459.10" y1="148.20" x2="450.50" y2="148.20" stroke="#000" stroke-width="1.1" />
<line x1="340.90" y1="142.79" x2="345.20" y2="142.79" stroke="#000" stroke-width="1.1" />
<line x1="459.10" y1="142.79" x2="454.80" y2="142.79" stroke="#000" stroke-width="1.1" />
<rect x="340.90" y="140.10" width="118.20" height="117.90" fill="none" stroke="#000" stroke-width="1.35"/>
<text transform="translate(49.25,275.40) scale(1.2,1)" text-anchor="middle" font-family="Liberation Sans" font-size="12.5px" fill="#000" stroke="#000" stroke-width="0.22">0</text>
<text transform="translate(37.40,253.30) rotate(-90) scale(1.2,1)" text-anchor="middle" font-family="Liberation Sans" font-size="12.5px" fill="#000" stroke="#000" stroke-width="0.22">0</text>
<text transform="translate(74.87,275.40) scale(1.2,1)" text-anchor="middle" font-family="Liberation Sans" font-size="12.5px" fill="#000" stroke="#000" stroke-width="0.22">2</text>
<text transform="translate(37.40,229.22) rotate(-90) scale(1.2,1)" text-anchor="middle" font-family="Liberation Sans" font-size="12.5px" fill="#000" stroke="#000" stroke-width="0.22">2</text>
<text transform="translate(100.49,275.40) scale(1.2,1)" text-anchor="middle" font-family="Liberation Sans" font-size="12.5px" fill="#000" stroke="#000" stroke-width="0.22">4</text>
<text transform="translate(37.40,205.14) rotate(-90) scale(1.2,1)" text-anchor="middle" font-family="Liberation Sans" font-size="12.5px" fill="#000" stroke="#000" stroke-width="0.22">4</text>
<text transform="translate(126.11,275.40) scale(1.2,1)" text-anchor="middle" font-family="Liberation Sans" font-size="12.5px" fill="#000" stroke="#000" stroke-width="0.22">6</text>
<text transform="translate(37.40,181.06) rotate(-90) scale(1.2,1)" text-anchor="middle" font-family="Liberation Sans" font-size="12.5px" fill="#000" stroke="#000" stroke-width="0.22">6</text>
<text transform="translate(151.73,275.40) scale(1.2,1)" text-anchor="middle" font-family="Liberation Sans" font-size="12.5px" fill="#000" stroke="#000" stroke-width="0.22">8</text>
<text transform="translate(37.40,156.98) rotate(-90) scale(1.2,1)" text-anchor="middle" font-family="Liberation Sans" font-size="12.5px" fill="#000" stroke="#000" stroke-width="0.22">8</text>
<text transform="translate(213.80,275.40) scale(1.27,1)" text-anchor="middle" font-family="Liberation Sans" font-size="12.5px" fill="#000" stroke="#000" stroke-width="0.22">−0.5</text>
<text transform="translate(248.00,275.40) scale(1.2,1)" text-anchor="middle" font-family="Liberation Sans" font-size="12.5px" fill="#000" stroke="#000" stroke-width="0.22">0</text>
<text transform="translate(283.20,275.40) scale(1.2,1)" text-anchor="middle" font-family="Liberation Sans" font-size="12.5px" fill="#000" stroke="#000" stroke-width="0.22">0.5</text>
<text transform="translate(185.20,227.40) rotate(-90) scale(1.33,1)" text-anchor="middle" font-family="Liberation Sans" font-size="12.5px" fill="#000" stroke="#000" stroke-width="0.22">−0.5</text>
<text transform="translate(185.20,196.00) rotate(-90) scale(1.2,1)" text-anchor="middle" font-family="Liberation Sans" font-size="12.5px" fill="#000" stroke="#000" stroke-width="0.22">0</text>
<text transform="translate(185.20,162.80) rotate(-90) scale(1.2,1)" text-anchor="middle" font-family="Liberation Sans" font-size="12.5px" fill="#000" stroke="#000" stroke-width="0.22">0.5</text>
<text transform="translate(341.30,275.40) scale(1.2,1)" text-anchor="middle" font-family="Liberation Sans" font-size="12.5px" fill="#000" stroke="#000" stroke-width="0.22">0</text>
<text transform="translate(333.20,256.30) rotate(-90) scale(1.2,1)" text-anchor="middle" font-family="Liberation Sans" font-size="12.5px" fill="#000" stroke="#000" stroke-width="0.22">0</text>
<text transform="translate(368.70,275.40) scale(1.2,1)" text-anchor="middle" font-family="Liberation Sans" font-size="12.5px" fill="#000" stroke="#000" stroke-width="0.22">1</text>
<text transform="translate(333.20,229.25) rotate(-90) scale(1.2,1)" text-anchor="middle" font-family="Liberation Sans" font-size="12.5px" fill="#000" stroke="#000" stroke-width="0.22">1</text>
<text transform="translate(396.10,275.40) scale(1.2,1)" text-anchor="middle" font-family="Liberation Sans" font-size="12.5px" fill="#000" stroke="#000" stroke-width="0.22">2</text>
<text transform="translate(333.20,202.20) rotate(-90) scale(1.2,1)" text-anchor="middle" font-family="Liberation Sans" font-size="12.5px" fill="#000" stroke="#000" stroke-width="0.22">2</text>
<text transform="translate(423.50,275.40) scale(1.2,1)" text-anchor="middle" font-family="Liberation Sans" font-size="12.5px" fill="#000" stroke="#000" stroke-width="0.22">3</text>
<text transform="translate(333.20,175.15) rotate(-90) scale(1.2,1)" text-anchor="middle" font-family="Liberation Sans" font-size="12.5px" fill="#000" stroke="#000" stroke-width="0.22">3</text>
<text transform="translate(450.90,275.40) scale(1.2,1)" text-anchor="middle" font-family="Liberation Sans" font-size="12.5px" fill="#000" stroke="#000" stroke-width="0.22">4</text>
<text transform="translate(333.20,148.10) rotate(-90) scale(1.2,1)" text-anchor="middle" font-family="Liberation Sans" font-size="12.5px" fill="#000" stroke="#000" stroke-width="0.22">4</text>
<text transform="translate(15.90,213.53) rotate(-90) scale(0.887,1)" font-family="Liberation Serif" font-size="14.8px" fill="#000" stroke="#000" stroke-width="0.3">O</text>
<text transform="translate(15.90,203.82) rotate(-90) scale(0.745,1)" font-family="Liberation Serif" font-size="14.8px" fill="#000" stroke="#000" stroke-width="0.3">U</text>
<text transform="translate(15.90,195.34) rotate(-90) scale(0.913,1)" font-family="Liberation Serif" font-size="14.8px" fill="#000" stroke="#000" stroke-width="0.3">T</text>
<text transform="translate(81.05,297.30) scale(1.041,1)" font-family="Liberation Serif" font-size="14.5px" fill="#000" stroke="#000" stroke-width="0.3">E</text>
<text transform="translate(90.03,301.20) scale(0.947,1)" font-family="Liberation Sans" font-size="9.2px" fill="#000" font-weight="bold" stroke="#000" stroke-width="0.3">b</text>
<text transform="translate(102.21,297.30) scale(0.757,1)" font-family="Liberation Serif" font-size="14.5px" fill="#000" stroke="#000" stroke-width="0.3">(</text>
<text transform="translate(106.69,297.30) scale(0.998,1)" font-family="Liberation Serif" font-size="14.5px" fill="#000" stroke="#000" stroke-width="0.3">I</text>
<text transform="translate(111.72,297.30) scale(0.875,1)" font-family="Liberation Serif" font-size="14.5px" fill="#000" stroke="#000" stroke-width="0.3">N</text>
<text transform="translate(122.82,297.30) scale(0.803,1)" font-family="Liberation Serif" font-size="14.5px" fill="#000" stroke="#000" stroke-width="0.3">)</text>
<text transform="translate(234.81,297.30) scale(1.125,1)" font-family="Liberation Serif" font-size="14.5px" fill="#000" font-style="italic" stroke="#000" stroke-width="0.3">δ</text>
<text transform="translate(243.87,297.30) scale(0.811,1)" font-family="Liberation Serif" font-size="14.5px" fill="#000" stroke="#000" stroke-width="0.3">(</text>
<text transform="translate(249.19,297.30) scale(0.998,1)" font-family="Liberation Serif" font-size="14.5px" fill="#000" stroke="#000" stroke-width="0.3">I</text>
<text transform="translate(254.22,297.30) scale(0.865,1)" font-family="Liberation Serif" font-size="14.5px" fill="#000" stroke="#000" stroke-width="0.3">N</text>
<text transform="translate(264.92,297.30) scale(0.803,1)" font-family="Liberation Serif" font-size="14.5px" fill="#000" stroke="#000" stroke-width="0.3">)</text>
<text transform="translate(380.39,297.30) scale(0.792,1)" font-family="Liberation Serif" font-size="14.5px" fill="#000" stroke="#000" stroke-width="0.3">A</text>
<text transform="translate(389.14,301.20) scale(0.855,1)" font-family="Liberation Sans" font-size="8.6px" fill="#000" font-weight="bold" stroke="#000" stroke-width="0.3">V</text>
<text transform="translate(394.64,297.30) scale(0.865,1)" font-family="Liberation Serif" font-size="14.5px" fill="#000" stroke="#000" stroke-width="0.3">(</text>
<text transform="translate(399.69,297.30) scale(0.998,1)" font-family="Liberation Serif" font-size="14.5px" fill="#000" stroke="#000" stroke-width="0.3">I</text>
<text transform="translate(404.72,297.30) scale(0.875,1)" font-family="Liberation Serif" font-size="14.5px" fill="#000" stroke="#000" stroke-width="0.3">N</text>
<text transform="translate(415.63,297.30) scale(0.777,1)" font-family="Liberation Serif" font-size="14.5px" fill="#000" stroke="#000" stroke-width="0.3">)</text>
</svg>
</body></html>
